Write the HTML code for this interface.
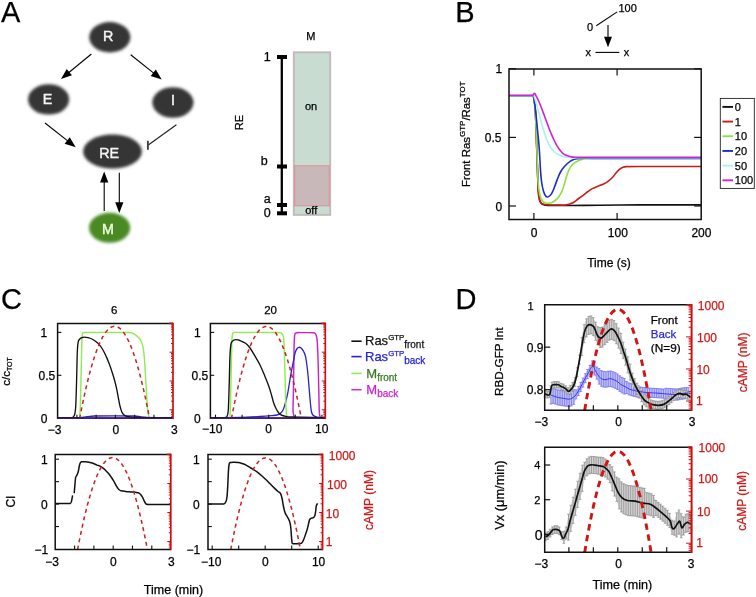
<!DOCTYPE html>
<html><head><meta charset="utf-8"><title>Figure</title>
<style>html,body{margin:0;padding:0;background:#fff;}body{width:756px;height:597px;overflow:hidden;font-family:"Liberation Sans",sans-serif;}svg{display:block;will-change:transform;}.k{stroke:#000;stroke-width:.25px}.r{stroke:#cc1a1a;stroke-width:.25px}text{font-family:"Liberation Sans",sans-serif;}</style>
</head><body>
<svg width="756" height="597" viewBox="0 0 756 597" font-family="Liberation Sans, sans-serif">
<defs><filter id="bl" x="-30%" y="-30%" width="160%" height="160%"><feGaussianBlur stdDeviation="1.7"/></filter></defs>
<rect width="756" height="597" fill="#fff"/>
<text x="1" y="21.8" font-size="29" text-anchor="start" fill="#000"  stroke="#000" stroke-width="0.25">A</text>
<ellipse cx="109.8" cy="37.2" rx="20.6" ry="15.2" fill="#363636" filter="url(#bl)"/>
<ellipse cx="48.6" cy="99.4" rx="20.6" ry="15.2" fill="#363636" filter="url(#bl)"/>
<ellipse cx="172.9" cy="102.5" rx="20.6" ry="15.3" fill="#363636" filter="url(#bl)"/>
<ellipse cx="112.5" cy="151.5" rx="29.4" ry="17" fill="#363636" filter="url(#bl)"/>
<ellipse cx="109.6" cy="227.8" rx="20.6" ry="15" fill="#4a8a24" filter="url(#bl)"/>
<text x="108.2" y="41.2" font-size="14.3" text-anchor="middle" fill="#f4f4f4" stroke="#f4f4f4" stroke-width="0.45">R</text>
<text x="47.6" y="104" font-size="14.3" text-anchor="middle" fill="#f4f4f4" stroke="#f4f4f4" stroke-width="0.45">E</text>
<text x="173" y="105.4" font-size="14.3" text-anchor="middle" fill="#f4f4f4" stroke="#f4f4f4" stroke-width="0.45">I</text>
<text x="109.2" y="158.2" font-size="14.3" text-anchor="middle" fill="#f4f4f4" stroke="#f4f4f4" stroke-width="0.45">RE</text>
<text x="108" y="233.6" font-size="14.3" text-anchor="middle" fill="#eefbe0" stroke="#eefbe0" stroke-width="0.45">M</text>
<line x1="91.4" y1="54" x2="68.57" y2="72.78" stroke="#000" stroke-width="1.1" />
<path d="M61,79 L66.74,68.97 L71.95,75.31 Z" fill="#000"/>
<line x1="130.7" y1="54.8" x2="154.04" y2="73.39" stroke="#000" stroke-width="1.1" />
<path d="M161.7,79.5 L150.7,75.98 L155.81,69.56 Z" fill="#000"/>
<line x1="45" y1="123" x2="68" y2="141.13" stroke="#000" stroke-width="1.1" />
<path d="M75.7,147.2 L64.68,143.73 L69.76,137.29 Z" fill="#000"/>
<line x1="176.4" y1="124.8" x2="148.3" y2="145" stroke="#222" stroke-width="1.15" />
<line x1="147.9" y1="140.8" x2="147.9" y2="149.8" stroke="#444" stroke-width="1.9" />
<line x1="104.2" y1="211" x2="104.2" y2="181.4" stroke="#000" stroke-width="1.1" />
<path d="M104.2,171.6 L108.3,182.4 L100.1,182.4 Z" fill="#000"/>
<line x1="119.3" y1="172.8" x2="119.3" y2="203.2" stroke="#000" stroke-width="1.1" />
<path d="M119.3,213 L115.2,202.2 L123.4,202.2 Z" fill="#000"/>
<text x="310.8" y="40.4" font-size="11" text-anchor="middle" fill="#000"  stroke="#000" stroke-width="0.25">M</text>
<text x="0" y="0" class="k" font-size="11" text-anchor="middle" transform="translate(242.6,122.6) rotate(-90)">RE</text>
<line x1="281.8" y1="57" x2="281.8" y2="213.3" stroke="#000" stroke-width="2.3" />
<rect x="277" y="55" width="10" height="4" fill="#000"/>
<rect x="277" y="164.5" width="10" height="4" fill="#000"/>
<rect x="277" y="203" width="10" height="4" fill="#000"/>
<rect x="277" y="211.3" width="10" height="4" fill="#000"/>
<text x="270.6" y="61" font-size="12.5" text-anchor="end" fill="#000"  stroke="#000" stroke-width="0.25">1</text>
<text x="267.6" y="164.7" font-size="12.5" text-anchor="end" fill="#000"  stroke="#000" stroke-width="0.25">b</text>
<text x="270.8" y="202.5" font-size="12.5" text-anchor="end" fill="#000"  stroke="#000" stroke-width="0.25">a</text>
<text x="270.8" y="217.2" font-size="12.5" text-anchor="end" fill="#000"  stroke="#000" stroke-width="0.25">0</text>
<rect x="293.8" y="52.3" width="36.4" height="162.6" fill="#c8dcd1" stroke="#c4b9b9" stroke-width="1.9"/>
<rect x="294.6" y="165.8" width="34.6" height="40" fill="#c9b8ba" stroke="#dc9494" stroke-width="1.1"/>
<text x="311" y="109.8" font-size="11" text-anchor="middle" fill="#000"  stroke="#000" stroke-width="0.25">on</text>
<text x="311.2" y="213.6" font-size="11" text-anchor="middle" fill="#000"  stroke="#000" stroke-width="0.25">off</text>
<text x="455.2" y="21.8" font-size="29" text-anchor="start" fill="#000"  stroke="#000" stroke-width="0.25">B</text>
<text x="618.5" y="11.9" font-size="11" text-anchor="start" fill="#000"  stroke="#000" stroke-width="0.25">100</text>
<text x="590" y="31.2" font-size="11" text-anchor="middle" fill="#000"  stroke="#000" stroke-width="0.25">0</text>
<line x1="596.3" y1="25.7" x2="617.2" y2="11.9" stroke="#000" stroke-width="1.1" />
<line x1="608" y1="25.1" x2="608" y2="37.8" stroke="#000" stroke-width="1.1" />
<path d="M608,47.3 L604,36.8 L612,36.8 Z" fill="#000"/>
<text x="588.3" y="56" font-size="11" text-anchor="middle" fill="#000"  stroke="#000" stroke-width="0.25">x</text>
<line x1="595.5" y1="52.4" x2="619.3" y2="52.4" stroke="#000" stroke-width="1.1" />
<text x="626.4" y="56" font-size="11" text-anchor="middle" fill="#000"  stroke="#000" stroke-width="0.25">x</text>
<path d="M509,95.8 C517.1,95.8 530.53,95.8 531.5,95.8 C532.15,95.8 533.13,95.17 533.3,95.8 C533.55,96.74 534.97,104.85 535.3,110 C535.8,117.73 536.26,135.6 536.8,150 C537.34,164.4 537.92,184 538.3,190 C538.55,194 539.22,198.59 540,201 C540.52,202.61 541.46,203.92 543,204.6 C545.32,205.62 547.47,205.32 550,205.4 C553.8,205.53 562.8,205.53 570,205.5 C580.8,205.46 589.2,205.29 600,205.2 C614.4,205.08 625.6,204.94 640,204.9 C661.6,204.84 679.04,204.9 701,204.9" fill="none" stroke="#111" stroke-width="1.6" />
<path d="M509,95.8 C517.1,95.8 530.53,95.8 531.5,95.8 C532.15,95.8 533.13,95.17 533.3,95.8 C533.55,96.74 534.97,104.85 535.3,110 C535.8,117.73 536.3,135.6 536.8,150 C537.3,164.4 537.82,184.56 538.1,190 C538.29,193.63 538.74,197.69 539.4,200 C539.84,201.54 540.64,202.76 542,203.6 C543.57,204.57 545.16,204.54 547,204.7 C549.75,204.94 554.22,204.94 558,205 C560.52,205.04 562.49,205.21 565,205 C566.83,204.85 568.25,204.57 570,204 C571.59,203.48 572.78,202.89 574.2,202 C575.68,201.08 576.6,200.03 578,199 C579.87,197.62 581.44,196.7 583.3,195.3 C585.04,193.99 586.25,192.8 588,191.5 C589.5,190.39 590.65,189.47 592.3,188.6 C594.27,187.56 595.94,187.04 598,186.2 C600.01,185.38 601.65,184.95 603.6,184 C605.27,183.18 606.51,182.41 608,181.3 C609.8,179.96 611.14,178.82 612.7,177.2 C614.03,175.82 614.75,174.46 616,173 C617.16,171.65 618.02,170.53 619.4,169.4 C620.56,168.45 621.61,167.87 623,167.3 C624.09,166.85 625.02,166.66 626.2,166.6 C627.97,166.52 635.03,166.51 640,166.5 C647.45,166.49 679.04,166.5 701,166.5" fill="none" stroke="#c82018" stroke-width="1.6" />
<path d="M509,95.8 C517.1,95.8 530.53,95.8 531.5,95.8 C532.15,95.8 533.15,95.17 533.3,95.8 C533.52,96.75 534.91,106.14 535.3,112 C535.88,120.8 536.35,136.32 536.9,150 C537.36,161.52 537.6,174.66 538.1,182 C538.43,186.9 539.22,192.16 540,195.5 C540.52,197.73 541.32,199.7 542.6,201.3 C543.45,202.37 544.68,202.63 546,203 C547.18,203.33 548.19,203.37 549.4,203.2 C550.75,203.01 551.82,202.69 553,202 C554.71,201.01 555.95,200.04 557.3,198.6 C558.68,197.13 559.51,195.76 560.5,194 C561.57,192.11 562.27,190.55 563,188.5 C564.07,185.5 564.55,183.04 565.5,180 C566.56,176.6 567.19,173.85 568.6,170.6 C569.54,168.44 570.51,166.81 572,165 C572.99,163.79 574.07,163.13 575.4,162.3 C576.97,161.32 578.26,160.64 580,160 C581.92,159.3 583.47,158.82 585.5,158.6 C588.55,158.27 591.58,158.41 595,158.4 C600.13,158.39 662.84,158.4 701,158.4" fill="none" stroke="#8ee048" stroke-width="1.6" />
<path d="M509,95.8 C517.1,95.8 530.53,95.8 531.5,95.8 C532.15,95.8 533.12,95.18 533.3,95.8 C533.56,96.74 534.87,104.87 535.5,110 C536.38,117.18 536.8,122.8 537.5,130 C538.13,136.48 538.71,141.51 539.2,148 C539.79,155.91 540.04,163.51 540.5,170 C540.81,174.33 540.99,177.7 541.6,182 C542.07,185.35 542.59,188.22 543.5,191.2 C544.11,193.19 545.08,195.41 546,196.4 C546.61,197.06 547.69,197 548.5,196.6 C549.71,195.99 550.78,194.92 551.6,193.6 C552.83,191.62 553.53,189.41 554.5,187 C555.59,184.29 556.22,182.11 557.3,179.4 C558.38,176.71 559.12,174.55 560.5,172 C561.54,170.07 562.59,168.69 564,167 C565.3,165.44 566.44,164.31 568,163 C569.33,161.88 570.43,161.03 572,160.3 C573.7,159.51 575.15,159.13 577,158.8 C579.24,158.4 581.03,158.34 583.3,158.3 C586.71,158.24 593.99,158.39 600,158.4 C609.02,158.41 664.64,158.4 701,158.4" fill="none" stroke="#1c2ccc" stroke-width="1.6" />
<path d="M509,95.6 C517.1,95.6 530.42,95.6 531.5,95.6 C532.22,95.6 533.21,95.58 533.5,95.6 C533.69,95.62 533.93,95.62 534,95.8 C534.1,96.07 535.3,100.02 536,102.4 C536.99,105.78 537.79,108.4 538.7,111.8 C539.73,115.64 540.39,118.7 541.4,122.5 C542.07,125.03 542.65,126.99 543.4,129.5 C544.09,131.81 544.61,133.62 545.4,135.9 C546.05,137.76 546.63,139.19 547.4,141 C548.07,142.57 548.56,143.81 549.4,145.3 C550.23,146.77 550.94,147.89 552,149.2 C552.89,150.31 553.71,151.08 554.8,152 C555.88,152.92 556.78,153.57 558,154.3 C559.2,155.02 560.19,155.5 561.5,156 C562.72,156.47 563.72,156.73 565,157 C566.14,157.24 567.04,157.32 568.2,157.4 C569.94,157.52 572.55,157.69 575,157.7 C578.68,157.71 655.64,157.7 701,157.7" fill="none" stroke="#a8f2f2" stroke-width="1.6" />
<path d="M509,95.3 C517.1,95.3 530.69,95.3 531.5,95.3 C532.04,95.3 532.56,95.62 533,95.3 C533.66,94.82 533.49,93.14 534.4,93.2 C535.37,93.27 535.32,94.66 535.8,95.5 C536.4,96.53 536.87,97.33 537.4,98.4 C538.17,99.96 538.72,101.2 539.4,102.8 C540.16,104.58 540.7,105.99 541.4,107.8 C542.14,109.7 542.69,111.19 543.4,113.1 C544.13,115.04 544.68,116.56 545.4,118.5 C546.12,120.44 546.67,121.96 547.4,123.9 C548.11,125.81 548.66,127.3 549.4,129.2 C550.1,130.97 550.65,132.35 551.4,134.1 C552.09,135.73 552.66,136.99 553.4,138.6 C554.1,140.12 554.64,141.31 555.4,142.8 C556.11,144.19 556.67,145.27 557.5,146.6 C558.33,147.94 559.02,148.96 560,150.2 C560.93,151.38 561.67,152.31 562.8,153.3 C563.67,154.06 564.48,154.47 565.5,155 C566.43,155.48 567.2,155.78 568.2,156.1 C569.37,156.47 570.29,156.7 571.5,156.9 C572.71,157.1 573.67,157.14 574.9,157.2 C576.73,157.29 578.16,157.3 580,157.3 C582.75,157.3 657.44,157.3 701,157.3" fill="none" stroke="#d022d6" stroke-width="1.6" />
<rect x="509" y="69" width="192.20000000000005" height="150.5" fill="none" stroke="#111" stroke-width="1.5"/>
<line x1="533.9" y1="69" x2="533.9" y2="75.5" stroke="#111" stroke-width="1.2" />
<line x1="533.9" y1="219.5" x2="533.9" y2="213" stroke="#111" stroke-width="1.2" />
<line x1="617.1" y1="69" x2="617.1" y2="75.5" stroke="#111" stroke-width="1.2" />
<line x1="617.1" y1="219.5" x2="617.1" y2="213" stroke="#111" stroke-width="1.2" />
<line x1="509" y1="206" x2="516" y2="206" stroke="#111" stroke-width="1.2" />
<line x1="701.2" y1="206" x2="694.2" y2="206" stroke="#111" stroke-width="1.2" />
<line x1="509" y1="137.4" x2="516" y2="137.4" stroke="#111" stroke-width="1.2" />
<line x1="701.2" y1="137.4" x2="694.2" y2="137.4" stroke="#111" stroke-width="1.2" />
<line x1="509" y1="68.8" x2="516" y2="68.8" stroke="#111" stroke-width="1.2" />
<line x1="701.2" y1="68.8" x2="694.2" y2="68.8" stroke="#111" stroke-width="1.2" />
<text x="502.2" y="73.4" font-size="12" text-anchor="end" fill="#000"  stroke="#000" stroke-width="0.25">1</text>
<text x="501.4" y="142.4" font-size="12" text-anchor="end" fill="#000"  stroke="#000" stroke-width="0.25">0.5</text>
<text x="502.2" y="210.6" font-size="12" text-anchor="end" fill="#000"  stroke="#000" stroke-width="0.25">0</text>
<text x="534" y="237.2" font-size="12" text-anchor="middle" fill="#000"  stroke="#000" stroke-width="0.25">0</text>
<text x="617.8" y="237.2" font-size="12" text-anchor="middle" fill="#000"  stroke="#000" stroke-width="0.25">100</text>
<text x="701.4" y="237.2" font-size="12" text-anchor="middle" fill="#000"  stroke="#000" stroke-width="0.25">200</text>
<text x="609" y="267.2" font-size="12" text-anchor="middle" fill="#000"  stroke="#000" stroke-width="0.25">Time (s)</text>
<text x="0" y="0" class="k" font-size="11.4" text-anchor="middle" transform="translate(469.8,134.2) rotate(-90)">Front Ras<tspan font-size="8" dy="-5">GTP</tspan><tspan dy="5">/Ras</tspan><tspan font-size="8" dy="-5">TOT</tspan></text>
<rect x="720.3" y="98.4" width="34" height="90" fill="#fff" stroke="#222" stroke-width="0.9"/>
<line x1="722.4" y1="106.9" x2="733" y2="106.9" stroke="#111" stroke-width="1.9" />
<text x="734.8" y="110.9" font-size="11" text-anchor="start" fill="#000"  stroke="#000" stroke-width="0.25">0</text>
<line x1="722.4" y1="121.58" x2="733" y2="121.58" stroke="#c82018" stroke-width="1.9" />
<text x="734.8" y="125.58" font-size="11" text-anchor="start" fill="#000"  stroke="#000" stroke-width="0.25">1</text>
<line x1="722.4" y1="136.26" x2="733" y2="136.26" stroke="#8ee048" stroke-width="1.9" />
<text x="734.8" y="140.26" font-size="11" text-anchor="start" fill="#000"  stroke="#000" stroke-width="0.25">10</text>
<line x1="722.4" y1="150.94" x2="733" y2="150.94" stroke="#1c2ccc" stroke-width="1.9" />
<text x="734.8" y="154.94" font-size="11" text-anchor="start" fill="#000"  stroke="#000" stroke-width="0.25">20</text>
<line x1="722.4" y1="165.62" x2="733" y2="165.62" stroke="#a8f2f2" stroke-width="1.9" />
<text x="734.8" y="169.62" font-size="11" text-anchor="start" fill="#000"  stroke="#000" stroke-width="0.25">50</text>
<line x1="722.4" y1="180.3" x2="733" y2="180.3" stroke="#d022d6" stroke-width="1.9" />
<text x="734.8" y="184.3" font-size="11" text-anchor="start" fill="#000"  stroke="#000" stroke-width="0.25">100</text>
<text x="1" y="309.2" font-size="29" text-anchor="start" fill="#000"  stroke="#000" stroke-width="0.25">C</text>
<text x="114.3" y="313.5" font-size="11.5" text-anchor="middle" fill="#000"  stroke="#000" stroke-width="0.25">6</text>
<text x="270.6" y="313.8" font-size="11.5" text-anchor="middle" fill="#000"  stroke="#000" stroke-width="0.25">20</text>
<path d="M57.6,418.1 L173,418.1" fill="none" stroke="#cc22cc" stroke-width="1.45" />
<path d="M57.6,417.6 C65.59,417.6 75.88,417.73 79.8,417.6 C82.42,417.51 84.4,416.88 87,416.6 C89.76,416.3 91.92,416.04 94.7,416 C98.87,415.95 130.81,415.94 134.4,416 C136.79,416.04 138.62,416.51 141,416.8 C143.38,417.09 145.21,417.54 147.6,417.6 C151.19,417.69 163.86,417.6 173,417.6" fill="none" stroke="#2424cc" stroke-width="1.3" />
<path d="M79.3,418.4 C79.41,418.26 79.59,418.18 79.6,418 C79.62,417.73 80.24,409.69 80.4,405 C80.63,397.97 80.91,382.6 81.2,370 C81.45,359.2 81.76,343.64 81.9,340 C81.99,337.58 82.37,334.14 82.6,333.3 C82.76,332.74 83.42,332.57 84,332.5 C84.86,332.39 87.84,332.4 90,332.4 C93.24,332.39 126.37,332.39 128,332.4 C129.09,332.41 129.94,332.47 131,332.7 C131.93,332.9 132.64,333.17 133.5,333.6 C134.46,334.08 135.16,334.54 136,335.2 C136.96,335.95 137.7,336.57 138.5,337.5 C139.51,338.67 140.3,339.62 141,341 C141.86,342.71 142.37,344.14 142.8,346 C143.45,348.8 143.7,351.1 144,354 C144.46,358.34 144.69,362.32 145,367 C145.38,372.76 145.57,377.24 145.9,383 C146.21,388.4 146.44,392.6 146.8,398 C147.09,402.32 147.32,406.46 147.7,410 C147.96,412.36 148.5,415.42 148.8,416.5 C149,417.22 149.57,417.59 150,418.2" fill="none" stroke="#90ec50" stroke-width="1.45" />
<path d="M57.6,417.6 C62.06,417.6 68.37,417.64 70,417.6 C71.09,417.57 72.13,417.85 73,417.2 C74.06,416.41 74.5,415.29 74.8,414 C75.24,412.07 75.63,408.26 75.8,405 C76.06,400.12 76.35,389 76.6,380 C76.89,369.92 77.05,357.69 77.3,352 C77.47,348.21 77.95,343.23 78.3,341.5 C78.53,340.34 79.19,339.56 80,338.7 C80.57,338.1 81.22,337.86 82,337.6 C82.86,337.31 83.59,337.18 84.5,337.2 C85.77,337.22 86.76,337.4 88,337.7 C89.44,338.05 90.57,338.36 91.9,339 C93.29,339.67 94.28,340.36 95.5,341.3 C96.92,342.39 98.03,343.25 99.2,344.6 C100.75,346.4 101.81,347.94 103,350 C104.48,352.56 105.39,354.7 106.6,357.4 C107.73,359.92 108.53,361.91 109.5,364.5 C110.51,367.21 111.21,369.35 112.1,372.1 C113.01,374.93 113.72,377.13 114.5,380 C115.34,383.11 115.91,385.55 116.6,388.7 C117.21,391.49 117.57,393.69 118.1,396.5 C118.58,399.02 118.86,400.99 119.4,403.5 C119.83,405.5 120.19,407.05 120.8,409 C121.24,410.4 121.56,411.53 122.3,412.8 C122.91,413.83 123.56,414.56 124.5,415.3 C125.28,415.92 126.04,416.23 127,416.5 C128.4,416.89 129.55,416.94 131,417.1 C132.79,417.3 134.19,417.48 136,417.5 C138.71,417.53 159.68,417.56 173,417.6" fill="none" stroke="#111" stroke-width="1.35" />
<path d="M79.64,418.6 L80.63,413.4 L81.63,408.35 L82.63,403.46 L83.63,398.71 L84.63,394.11 L85.63,389.67 L86.63,385.37 L87.63,381.23 L88.63,377.23 L89.63,373.39 L90.62,369.7 L91.62,366.16 L92.62,362.77 L93.62,359.53 L94.62,356.44 L95.62,353.5 L96.62,350.71 L97.62,348.08 L98.62,345.59 L99.62,343.25 L100.61,341.07 L101.61,339.03 L102.61,337.15 L103.61,335.42 L104.61,333.83 L105.61,332.4 L106.61,331.12 L107.61,329.99 L108.61,329.01 L109.61,328.18 L110.6,327.51 L111.6,326.98 L112.6,326.6 L113.6,326.38 L114.6,326.3 L115.6,326.38 L116.6,326.6 L117.6,326.98 L118.6,327.51 L119.59,328.18 L120.59,329.01 L121.59,329.99 L122.59,331.12 L123.59,332.4 L124.59,333.83 L125.59,335.42 L126.59,337.15 L127.59,339.03 L128.59,341.07 L129.58,343.25 L130.58,345.59 L131.58,348.08 L132.58,350.71 L133.58,353.5 L134.58,356.44 L135.58,359.53 L136.58,362.77 L137.58,366.16 L138.58,369.7 L139.57,373.39 L140.57,377.23 L141.57,381.23 L142.57,385.37 L143.57,389.67 L144.57,394.11 L145.57,398.71 L146.57,403.46 L147.57,408.35 L148.57,413.4 L149.56,418.6" fill="none" stroke="#c82222" stroke-width="1.5" stroke-dasharray="4,3.5"/>
<path d="M173,323.4 L57.6,323.4 L57.6,418.3 L173,418.3" fill="none" stroke="#111" stroke-width="1.5"/>
<line x1="57.6" y1="418.3" x2="173" y2="418.3" stroke="#3a1a7a" stroke-width="1.6" />
<line x1="76.86" y1="418.3" x2="76.86" y2="414.7" stroke="#111" stroke-width="1.1" />
<line x1="96.13" y1="418.3" x2="96.13" y2="414.7" stroke="#111" stroke-width="1.1" />
<line x1="115.4" y1="418.3" x2="115.4" y2="414.7" stroke="#111" stroke-width="1.1" />
<line x1="134.67" y1="418.3" x2="134.67" y2="414.7" stroke="#111" stroke-width="1.1" />
<line x1="153.94" y1="418.3" x2="153.94" y2="414.7" stroke="#111" stroke-width="1.1" />
<line x1="57.6" y1="332.4" x2="61.4" y2="332.4" stroke="#111" stroke-width="1.1" />
<line x1="57.6" y1="375.3" x2="61.4" y2="375.3" stroke="#111" stroke-width="1.1" />
<line x1="169" y1="323.4" x2="173" y2="323.4" stroke="#cc1010" stroke-width="1.5" />
<line x1="173" y1="322.65" x2="173" y2="419.05" stroke="#cc1010" stroke-width="1.7" />
<line x1="171" y1="416.19" x2="173" y2="416.19" stroke="#cc1010" stroke-width="1.0" />
<line x1="171" y1="414.26" x2="173" y2="414.26" stroke="#cc1010" stroke-width="1.0" />
<line x1="171" y1="412.59" x2="173" y2="412.59" stroke="#cc1010" stroke-width="1.0" />
<line x1="171" y1="411.12" x2="173" y2="411.12" stroke="#cc1010" stroke-width="1.0" />
<line x1="169.5" y1="409.8" x2="173" y2="409.8" stroke="#cc1010" stroke-width="1.0" />
<line x1="171" y1="401.13" x2="173" y2="401.13" stroke="#cc1010" stroke-width="1.0" />
<line x1="171" y1="396.06" x2="173" y2="396.06" stroke="#cc1010" stroke-width="1.0" />
<line x1="171" y1="392.46" x2="173" y2="392.46" stroke="#cc1010" stroke-width="1.0" />
<line x1="171" y1="389.67" x2="173" y2="389.67" stroke="#cc1010" stroke-width="1.0" />
<line x1="171" y1="387.39" x2="173" y2="387.39" stroke="#cc1010" stroke-width="1.0" />
<line x1="171" y1="385.46" x2="173" y2="385.46" stroke="#cc1010" stroke-width="1.0" />
<line x1="171" y1="383.79" x2="173" y2="383.79" stroke="#cc1010" stroke-width="1.0" />
<line x1="171" y1="382.32" x2="173" y2="382.32" stroke="#cc1010" stroke-width="1.0" />
<line x1="169.5" y1="381" x2="173" y2="381" stroke="#cc1010" stroke-width="1.0" />
<line x1="171" y1="372.33" x2="173" y2="372.33" stroke="#cc1010" stroke-width="1.0" />
<line x1="171" y1="367.26" x2="173" y2="367.26" stroke="#cc1010" stroke-width="1.0" />
<line x1="171" y1="363.66" x2="173" y2="363.66" stroke="#cc1010" stroke-width="1.0" />
<line x1="171" y1="360.87" x2="173" y2="360.87" stroke="#cc1010" stroke-width="1.0" />
<line x1="171" y1="358.59" x2="173" y2="358.59" stroke="#cc1010" stroke-width="1.0" />
<line x1="171" y1="356.66" x2="173" y2="356.66" stroke="#cc1010" stroke-width="1.0" />
<line x1="171" y1="354.99" x2="173" y2="354.99" stroke="#cc1010" stroke-width="1.0" />
<line x1="171" y1="353.52" x2="173" y2="353.52" stroke="#cc1010" stroke-width="1.0" />
<line x1="169.5" y1="352.2" x2="173" y2="352.2" stroke="#cc1010" stroke-width="1.0" />
<line x1="171" y1="343.53" x2="173" y2="343.53" stroke="#cc1010" stroke-width="1.0" />
<line x1="171" y1="338.46" x2="173" y2="338.46" stroke="#cc1010" stroke-width="1.0" />
<line x1="171" y1="334.86" x2="173" y2="334.86" stroke="#cc1010" stroke-width="1.0" />
<line x1="171" y1="332.07" x2="173" y2="332.07" stroke="#cc1010" stroke-width="1.0" />
<line x1="171" y1="329.79" x2="173" y2="329.79" stroke="#cc1010" stroke-width="1.0" />
<line x1="171" y1="327.86" x2="173" y2="327.86" stroke="#cc1010" stroke-width="1.0" />
<line x1="171" y1="326.19" x2="173" y2="326.19" stroke="#cc1010" stroke-width="1.0" />
<line x1="171" y1="324.72" x2="173" y2="324.72" stroke="#cc1010" stroke-width="1.0" />
<line x1="169.5" y1="323.4" x2="173" y2="323.4" stroke="#cc1010" stroke-width="1.0" />
<text x="47.2" y="337.2" font-size="12" text-anchor="end" fill="#000"  stroke="#000" stroke-width="0.25">1</text>
<text x="55.2" y="380" font-size="12" text-anchor="end" fill="#000"  stroke="#000" stroke-width="0.25">0.5</text>
<text x="47.4" y="423.4" font-size="12" text-anchor="end" fill="#000"  stroke="#000" stroke-width="0.25">0</text>
<text x="54.6" y="433.6" font-size="12" text-anchor="middle" fill="#000"  stroke="#000" stroke-width="0.25">−3</text>
<text x="115.8" y="433.6" font-size="12" text-anchor="middle" fill="#000"  stroke="#000" stroke-width="0.25">0</text>
<text x="174.3" y="433.6" font-size="12" text-anchor="middle" fill="#000"  stroke="#000" stroke-width="0.25">3</text>
<text x="0" y="0" class="k" font-size="11.5" text-anchor="middle" transform="translate(9.9,371.5) rotate(-90)">c/c<tspan font-size="7" dy="2.2">TOT</tspan></text>
<path d="M210.4,418.1 C239.88,418.1 287.93,418.53 292.3,418.1 C295.21,417.81 292.9,412.93 293,410 C293.15,405.61 293.42,390.8 293.6,380 C293.81,367.4 293.93,350.95 294.1,345 C294.21,341.03 294.69,335.06 294.9,334 C295.04,333.29 295.81,332.99 296.5,332.8 C297.54,332.51 298.74,332.61 300,332.6 C301.89,332.59 312.65,332.67 313.5,332.7 C314.07,332.72 314.6,332.8 315,333.2 C315.6,333.8 316.04,334.58 316.3,335.5 C316.69,336.87 317.04,339 317.2,341 C317.45,344 317.71,349.96 317.9,355 C318.14,361.41 318.24,366.39 318.4,372.8 C318.6,380.79 318.72,387.01 318.9,395 C319.04,401.12 319.13,409.05 319.3,412 C319.41,413.97 319.93,416.65 320.2,417.4 C320.38,417.9 320.97,418.03 321.5,418.1 C322.29,418.21 323.93,418.1 325.3,418.1" fill="none" stroke="#cc22cc" stroke-width="1.45" />
<path d="M210.4,417.6 C221.06,417.53 229.35,417.64 240,417.4 C247.21,417.24 253.51,416.86 260,416.5 C264.33,416.26 269.29,415.84 272,415.6 C273.81,415.44 275.26,415.49 277,415 C278.36,414.61 279.42,414.12 280.5,413.2 C281.71,412.17 282.53,411.14 283.2,409.7 C284.21,407.54 284.77,405.12 285.5,402.5 C286.35,399.43 286.97,397.03 287.6,393.9 C288.38,390 288.75,386.92 289.4,383 C290.01,379.33 290.42,376.46 291.1,372.8 C291.89,368.54 292.64,365.25 293.5,361 C294.12,357.94 294.54,354.8 295.2,352.5 C295.64,350.97 296.38,349.48 297.1,348.5 C297.58,347.85 298.2,347.42 299,347.3 C299.74,347.19 300.41,347.44 301,347.9 C301.89,348.59 302.43,349.4 303,350.4 C303.86,351.9 304.68,353.37 305.2,355.2 C305.98,357.94 306.18,360.18 306.6,363 C307.12,366.52 307.43,369.26 307.8,372.8 C308.22,376.83 308.46,379.97 308.8,384 C309.1,387.56 309.3,390.34 309.6,393.9 C309.91,397.54 310.13,400.37 310.5,404 C310.78,406.71 311.05,409.74 311.4,411.5 C311.63,412.67 312.08,413.71 312.6,414.6 C312.95,415.19 313.38,415.59 314,415.9 C314.92,416.36 316.49,417.07 318,417.3 C320.26,417.65 322.48,417.49 325,417.6" fill="none" stroke="#2424cc" stroke-width="1.3" />
<path d="M229.5,418.4 C229.61,418.26 229.79,418.18 229.8,418 C229.82,417.73 230.36,409.68 230.5,405 C230.7,397.97 230.93,382.6 231.2,370 C231.43,359.2 231.74,343.7 231.9,340 C232.01,337.53 232.47,334.16 232.8,333.2 C233.02,332.56 233.83,332.47 234.5,332.4 C235.51,332.29 238.02,332.4 240,332.4 C242.97,332.4 276.47,332.39 278,332.4 C279.02,332.41 279.88,332.37 280.8,332.8 C281.58,333.17 282.09,333.74 282.5,334.5 C283.12,335.64 283.45,336.69 283.6,338 C283.83,339.97 284.14,345.68 284.3,350 C284.55,356.49 284.75,366 285,375 C285.25,384 285.44,392.97 285.7,400 C285.87,404.68 286.17,410.17 286.4,413 C286.56,414.89 286.91,416.33 287.2,418.2" fill="none" stroke="#90ec50" stroke-width="1.45" />
<path d="M210.4,417.6 C215.3,417.6 222.28,417.71 224,417.6 C225.15,417.52 226.43,417.5 227,416.5 C227.85,415 228.13,412.38 228.3,410 C228.55,406.43 228.92,394 229.2,385 C229.53,374.2 229.69,361.5 230,355 C230.21,350.66 230.76,344.86 231.2,343 C231.5,341.76 232.43,341 233.5,340.3 C234.33,339.75 235.2,339.67 236.2,339.7 C237.6,339.74 238.69,340 240,340.5 C241.96,341.25 243.8,341.95 245.6,343.3 C247.45,344.69 248.64,346.13 250,348 C252.04,350.79 253.25,353.22 255,356.2 C256.85,359.34 258.37,361.74 260,365 C261.76,368.52 262.89,371.37 264.4,375 C266.13,379.18 267.49,382.43 269,386.7 C270.04,389.64 270.64,392 271.5,395 C272.33,397.87 272.76,400.17 273.7,403 C274.38,405.04 275.05,406.58 276,408.5 C276.74,410.01 277.36,411.18 278.4,412.5 C279.18,413.48 279.93,414.16 281,414.8 C282.09,415.44 283.07,415.7 284.3,416 C286.14,416.45 287.92,416.92 290,417 C293.12,417.12 312.4,417.38 325,417.6" fill="none" stroke="#111" stroke-width="1.35" />
<path d="M231.45,418.6 L232.45,413.41 L233.45,408.36 L234.45,403.47 L235.45,398.73 L236.45,394.14 L237.45,389.7 L238.44,385.41 L239.44,381.27 L240.44,377.28 L241.44,373.44 L242.44,369.75 L243.44,366.22 L244.43,362.83 L245.43,359.59 L246.43,356.51 L247.43,353.57 L248.43,350.79 L249.43,348.15 L250.42,345.67 L251.42,343.33 L252.42,341.15 L253.42,339.12 L254.42,337.24 L255.42,335.51 L256.42,333.93 L257.41,332.5 L258.41,331.22 L259.41,330.09 L260.41,329.11 L261.41,328.28 L262.41,327.6 L263.4,327.08 L264.4,326.7 L265.4,326.48 L266.4,326.4 L267.4,326.48 L268.4,326.7 L269.4,327.08 L270.39,327.6 L271.39,328.28 L272.39,329.11 L273.39,330.09 L274.39,331.22 L275.39,332.5 L276.38,333.93 L277.38,335.51 L278.38,337.24 L279.38,339.12 L280.38,341.15 L281.38,343.33 L282.38,345.67 L283.37,348.15 L284.37,350.79 L285.37,353.57 L286.37,356.51 L287.37,359.59 L288.37,362.83 L289.36,366.22 L290.36,369.75 L291.36,373.44 L292.36,377.28 L293.36,381.27 L294.36,385.41 L295.35,389.7 L296.35,394.14 L297.35,398.73 L298.35,403.47 L299.35,408.36 L300.35,413.41 L301.35,418.6" fill="none" stroke="#c82222" stroke-width="1.5" stroke-dasharray="4,3.5"/>
<path d="M325.3,323.4 L210.4,323.4 L210.4,418.3 L325.3,418.3" fill="none" stroke="#111" stroke-width="1.5"/>
<line x1="210.4" y1="418.3" x2="325.3" y2="418.3" stroke="#3a1a7a" stroke-width="1.6" />
<line x1="215.5" y1="418.3" x2="215.5" y2="414.7" stroke="#111" stroke-width="1.1" />
<line x1="242.1" y1="418.3" x2="242.1" y2="414.7" stroke="#111" stroke-width="1.1" />
<line x1="268.7" y1="418.3" x2="268.7" y2="414.7" stroke="#111" stroke-width="1.1" />
<line x1="295.3" y1="418.3" x2="295.3" y2="414.7" stroke="#111" stroke-width="1.1" />
<line x1="321.9" y1="418.3" x2="321.9" y2="414.7" stroke="#111" stroke-width="1.1" />
<line x1="210.4" y1="332.4" x2="214.2" y2="332.4" stroke="#111" stroke-width="1.1" />
<line x1="210.4" y1="375.3" x2="214.2" y2="375.3" stroke="#111" stroke-width="1.1" />
<line x1="321.3" y1="323.4" x2="325.3" y2="323.4" stroke="#cc1010" stroke-width="1.5" />
<line x1="325.3" y1="322.65" x2="325.3" y2="419.05" stroke="#cc1010" stroke-width="1.7" />
<line x1="323.3" y1="416.19" x2="325.3" y2="416.19" stroke="#cc1010" stroke-width="1.0" />
<line x1="323.3" y1="414.26" x2="325.3" y2="414.26" stroke="#cc1010" stroke-width="1.0" />
<line x1="323.3" y1="412.59" x2="325.3" y2="412.59" stroke="#cc1010" stroke-width="1.0" />
<line x1="323.3" y1="411.12" x2="325.3" y2="411.12" stroke="#cc1010" stroke-width="1.0" />
<line x1="321.8" y1="409.8" x2="325.3" y2="409.8" stroke="#cc1010" stroke-width="1.0" />
<line x1="323.3" y1="401.13" x2="325.3" y2="401.13" stroke="#cc1010" stroke-width="1.0" />
<line x1="323.3" y1="396.06" x2="325.3" y2="396.06" stroke="#cc1010" stroke-width="1.0" />
<line x1="323.3" y1="392.46" x2="325.3" y2="392.46" stroke="#cc1010" stroke-width="1.0" />
<line x1="323.3" y1="389.67" x2="325.3" y2="389.67" stroke="#cc1010" stroke-width="1.0" />
<line x1="323.3" y1="387.39" x2="325.3" y2="387.39" stroke="#cc1010" stroke-width="1.0" />
<line x1="323.3" y1="385.46" x2="325.3" y2="385.46" stroke="#cc1010" stroke-width="1.0" />
<line x1="323.3" y1="383.79" x2="325.3" y2="383.79" stroke="#cc1010" stroke-width="1.0" />
<line x1="323.3" y1="382.32" x2="325.3" y2="382.32" stroke="#cc1010" stroke-width="1.0" />
<line x1="321.8" y1="381" x2="325.3" y2="381" stroke="#cc1010" stroke-width="1.0" />
<line x1="323.3" y1="372.33" x2="325.3" y2="372.33" stroke="#cc1010" stroke-width="1.0" />
<line x1="323.3" y1="367.26" x2="325.3" y2="367.26" stroke="#cc1010" stroke-width="1.0" />
<line x1="323.3" y1="363.66" x2="325.3" y2="363.66" stroke="#cc1010" stroke-width="1.0" />
<line x1="323.3" y1="360.87" x2="325.3" y2="360.87" stroke="#cc1010" stroke-width="1.0" />
<line x1="323.3" y1="358.59" x2="325.3" y2="358.59" stroke="#cc1010" stroke-width="1.0" />
<line x1="323.3" y1="356.66" x2="325.3" y2="356.66" stroke="#cc1010" stroke-width="1.0" />
<line x1="323.3" y1="354.99" x2="325.3" y2="354.99" stroke="#cc1010" stroke-width="1.0" />
<line x1="323.3" y1="353.52" x2="325.3" y2="353.52" stroke="#cc1010" stroke-width="1.0" />
<line x1="321.8" y1="352.2" x2="325.3" y2="352.2" stroke="#cc1010" stroke-width="1.0" />
<line x1="323.3" y1="343.53" x2="325.3" y2="343.53" stroke="#cc1010" stroke-width="1.0" />
<line x1="323.3" y1="338.46" x2="325.3" y2="338.46" stroke="#cc1010" stroke-width="1.0" />
<line x1="323.3" y1="334.86" x2="325.3" y2="334.86" stroke="#cc1010" stroke-width="1.0" />
<line x1="323.3" y1="332.07" x2="325.3" y2="332.07" stroke="#cc1010" stroke-width="1.0" />
<line x1="323.3" y1="329.79" x2="325.3" y2="329.79" stroke="#cc1010" stroke-width="1.0" />
<line x1="323.3" y1="327.86" x2="325.3" y2="327.86" stroke="#cc1010" stroke-width="1.0" />
<line x1="323.3" y1="326.19" x2="325.3" y2="326.19" stroke="#cc1010" stroke-width="1.0" />
<line x1="323.3" y1="324.72" x2="325.3" y2="324.72" stroke="#cc1010" stroke-width="1.0" />
<line x1="321.8" y1="323.4" x2="325.3" y2="323.4" stroke="#cc1010" stroke-width="1.0" />
<text x="200.6" y="337.2" font-size="12" text-anchor="end" fill="#000"  stroke="#000" stroke-width="0.25">1</text>
<text x="208.3" y="380" font-size="12" text-anchor="end" fill="#000"  stroke="#000" stroke-width="0.25">0.5</text>
<text x="200.6" y="423.4" font-size="12" text-anchor="end" fill="#000"  stroke="#000" stroke-width="0.25">0</text>
<text x="212.2" y="433.4" font-size="12" text-anchor="middle" fill="#000"  stroke="#000" stroke-width="0.25">−10</text>
<text x="268.6" y="433.4" font-size="12" text-anchor="middle" fill="#000"  stroke="#000" stroke-width="0.25">0</text>
<text x="321.7" y="433.4" font-size="12" text-anchor="middle" fill="#000"  stroke="#000" stroke-width="0.25">10</text>
<line x1="351.4" y1="341.2" x2="361.6" y2="341.2" stroke="#111" stroke-width="1.6" />
<text x="365" y="345.3" font-size="13" fill="#111" stroke="#111" stroke-width="0.25">Ras<tspan font-size="7.8" dy="-5.1">GTP</tspan><tspan font-size="10" dy="8.0">front</tspan></text>
<line x1="351.4" y1="356.6" x2="361.6" y2="356.6" stroke="#2222dd" stroke-width="1.6" />
<text x="365" y="360.7" font-size="13" fill="#2222dd" stroke="#2222dd" stroke-width="0.25">Ras<tspan font-size="7.8" dy="-5.1">GTP</tspan><tspan font-size="10" dy="8.0">back</tspan></text>
<line x1="351.4" y1="373.4" x2="361.6" y2="373.4" stroke="#90ec50" stroke-width="1.6" />
<text x="366.3" y="377.5" font-size="13" fill="#3a7a22" stroke="#3a7a22" stroke-width="0.25">M<tspan font-size="10" dy="3">front</tspan></text>
<line x1="351.4" y1="389.7" x2="361.6" y2="389.7" stroke="#cc33cc" stroke-width="1.6" />
<text x="366.3" y="393.8" font-size="13" fill="#cc22cc" stroke="#cc22cc" stroke-width="0.25">M<tspan font-size="10" dy="3">back</tspan></text>
<path d="M55.2,503.6 C56.93,503.6 58.27,503.62 60,503.6 C62.59,503.57 68.89,503.66 70.2,503.4 C71.07,503.23 71.25,502.15 71.5,501.3 C71.88,500.02 72.2,497.46 72.6,495.3" fill="none" stroke="#111" stroke-width="1.5" />
<path d="M74.2,493.2 C74.7,487.55 75.39,478.91 75.6,477.5 C75.74,476.56 76.51,476.07 76.9,475.2 C77.44,474.01 77.87,473.07 78.2,471.8 C78.7,469.9 78.89,467.76 79.3,466 C79.57,464.82 79.87,463.58 80.3,462.8 C80.58,462.28 81.02,461.92 81.6,461.8 C82.47,461.62 83.78,461.73 85,461.8 C86.45,461.88 87.58,461.93 89,462.2 C90.47,462.48 91.6,462.79 93,463.3 C94.48,463.84 95.54,464.51 97,465.1 C98.2,465.59 99.25,465.7 100.4,466.3 C101.43,466.83 102.09,467.48 103,468.2 C104.08,469.06 104.91,469.74 105.9,470.7 C106.93,471.69 107.69,472.5 108.6,473.6 C109.64,474.85 110.36,475.88 111.3,477.2 C111.95,478.11 112.42,478.84 113,479.8 C113.61,480.82 114.03,481.66 114.6,482.7 C115.21,483.82 115.66,484.7 116.3,485.8 C116.85,486.75 117.23,487.53 117.9,488.4 C118.39,489.05 118.85,489.51 119.5,490 C120.02,490.39 120.47,490.65 121.1,490.8 C122.04,491.02 123.91,491.22 125.5,491.4 C127.44,491.62 128.96,491.72 130.9,491.9 C132.88,492.08 135.41,492.28 136.4,492.4 C137.06,492.48 137.57,492.58 138.2,492.8 C138.73,492.98 139.16,493.15 139.6,493.5 C140.18,493.96 140.53,494.43 141,495 C141.51,495.62 141.9,496.11 142.3,496.8 C142.8,497.66 143.09,498.39 143.5,499.3 C143.88,500.15 144.07,500.87 144.5,501.7 C144.83,502.35 145.13,502.84 145.6,503.4 C145.93,503.79 146.21,504.14 146.7,504.3 C147.43,504.54 148.17,504.47 149,504.5 C149.94,504.54 150.66,504.5 151.6,504.5 C153,504.49 163.89,504.44 170.8,504.4" fill="none" stroke="#111" stroke-width="1.5" />
<path d="M77.59,549.6 L78.59,544.42 L79.59,539.39 L80.58,534.5 L81.58,529.77 L82.58,525.19 L83.58,520.76 L84.57,516.48 L85.57,512.35 L86.57,508.37 L87.57,504.54 L88.56,500.86 L89.56,497.33 L90.56,493.95 L91.56,490.72 L92.55,487.64 L93.55,484.71 L94.55,481.93 L95.54,479.3 L96.54,476.83 L97.54,474.5 L98.54,472.32 L99.53,470.29 L100.53,468.41 L101.53,466.69 L102.53,465.11 L103.52,463.68 L104.52,462.41 L105.52,461.28 L106.52,460.3 L107.51,459.48 L108.51,458.8 L109.51,458.28 L110.51,457.9 L111.5,457.68 L112.5,457.6 L113.5,457.68 L114.49,457.9 L115.49,458.28 L116.49,458.8 L117.49,459.48 L118.48,460.3 L119.48,461.28 L120.48,462.41 L121.48,463.68 L122.47,465.11 L123.47,466.69 L124.47,468.41 L125.47,470.29 L126.46,472.32 L127.46,474.5 L128.46,476.83 L129.46,479.3 L130.45,481.93 L131.45,484.71 L132.45,487.64 L133.44,490.72 L134.44,493.95 L135.44,497.33 L136.44,500.86 L137.43,504.54 L138.43,508.37 L139.43,512.35 L140.43,516.48 L141.42,520.76 L142.42,525.19 L143.42,529.77 L144.42,534.5 L145.41,539.39 L146.41,544.42 L147.41,549.6" fill="none" stroke="#c82222" stroke-width="1.5" stroke-dasharray="4,3.5"/>
<path d="M170.8,454.4 L55.2,454.4 L55.2,549.4 L170.8,549.4" fill="none" stroke="#111" stroke-width="1.5"/>
<line x1="74.6" y1="549.4" x2="74.6" y2="545.6" stroke="#111" stroke-width="1.1" />
<line x1="93.9" y1="549.4" x2="93.9" y2="545.6" stroke="#111" stroke-width="1.1" />
<line x1="113.2" y1="549.4" x2="113.2" y2="545.6" stroke="#111" stroke-width="1.1" />
<line x1="132.5" y1="549.4" x2="132.5" y2="545.6" stroke="#111" stroke-width="1.1" />
<line x1="151.8" y1="549.4" x2="151.8" y2="545.6" stroke="#111" stroke-width="1.1" />
<line x1="55.2" y1="459.2" x2="59" y2="459.2" stroke="#111" stroke-width="1.1" />
<line x1="55.2" y1="481.65" x2="59" y2="481.65" stroke="#111" stroke-width="1.1" />
<line x1="55.2" y1="504.1" x2="59" y2="504.1" stroke="#111" stroke-width="1.1" />
<line x1="55.2" y1="526.55" x2="59" y2="526.55" stroke="#111" stroke-width="1.1" />
<line x1="166.8" y1="454.4" x2="170.8" y2="454.4" stroke="#cc1010" stroke-width="1.5" />
<line x1="170.8" y1="453.65" x2="170.8" y2="550.15" stroke="#cc1010" stroke-width="1.7" />
<line x1="168.8" y1="547.93" x2="170.8" y2="547.93" stroke="#cc1010" stroke-width="1.0" />
<line x1="168.8" y1="545.99" x2="170.8" y2="545.99" stroke="#cc1010" stroke-width="1.0" />
<line x1="168.8" y1="544.31" x2="170.8" y2="544.31" stroke="#cc1010" stroke-width="1.0" />
<line x1="168.8" y1="542.83" x2="170.8" y2="542.83" stroke="#cc1010" stroke-width="1.0" />
<line x1="167.3" y1="541.5" x2="170.8" y2="541.5" stroke="#cc1010" stroke-width="1.0" />
<line x1="168.8" y1="532.77" x2="170.8" y2="532.77" stroke="#cc1010" stroke-width="1.0" />
<line x1="168.8" y1="527.66" x2="170.8" y2="527.66" stroke="#cc1010" stroke-width="1.0" />
<line x1="168.8" y1="524.04" x2="170.8" y2="524.04" stroke="#cc1010" stroke-width="1.0" />
<line x1="168.8" y1="521.23" x2="170.8" y2="521.23" stroke="#cc1010" stroke-width="1.0" />
<line x1="168.8" y1="518.93" x2="170.8" y2="518.93" stroke="#cc1010" stroke-width="1.0" />
<line x1="168.8" y1="516.99" x2="170.8" y2="516.99" stroke="#cc1010" stroke-width="1.0" />
<line x1="168.8" y1="515.31" x2="170.8" y2="515.31" stroke="#cc1010" stroke-width="1.0" />
<line x1="168.8" y1="513.83" x2="170.8" y2="513.83" stroke="#cc1010" stroke-width="1.0" />
<line x1="167.3" y1="512.5" x2="170.8" y2="512.5" stroke="#cc1010" stroke-width="1.0" />
<line x1="168.8" y1="503.77" x2="170.8" y2="503.77" stroke="#cc1010" stroke-width="1.0" />
<line x1="168.8" y1="498.66" x2="170.8" y2="498.66" stroke="#cc1010" stroke-width="1.0" />
<line x1="168.8" y1="495.04" x2="170.8" y2="495.04" stroke="#cc1010" stroke-width="1.0" />
<line x1="168.8" y1="492.23" x2="170.8" y2="492.23" stroke="#cc1010" stroke-width="1.0" />
<line x1="168.8" y1="489.93" x2="170.8" y2="489.93" stroke="#cc1010" stroke-width="1.0" />
<line x1="168.8" y1="487.99" x2="170.8" y2="487.99" stroke="#cc1010" stroke-width="1.0" />
<line x1="168.8" y1="486.31" x2="170.8" y2="486.31" stroke="#cc1010" stroke-width="1.0" />
<line x1="168.8" y1="484.83" x2="170.8" y2="484.83" stroke="#cc1010" stroke-width="1.0" />
<line x1="167.3" y1="483.5" x2="170.8" y2="483.5" stroke="#cc1010" stroke-width="1.0" />
<line x1="168.8" y1="474.77" x2="170.8" y2="474.77" stroke="#cc1010" stroke-width="1.0" />
<line x1="168.8" y1="469.66" x2="170.8" y2="469.66" stroke="#cc1010" stroke-width="1.0" />
<line x1="168.8" y1="466.04" x2="170.8" y2="466.04" stroke="#cc1010" stroke-width="1.0" />
<line x1="168.8" y1="463.23" x2="170.8" y2="463.23" stroke="#cc1010" stroke-width="1.0" />
<line x1="168.8" y1="460.93" x2="170.8" y2="460.93" stroke="#cc1010" stroke-width="1.0" />
<line x1="168.8" y1="458.99" x2="170.8" y2="458.99" stroke="#cc1010" stroke-width="1.0" />
<line x1="168.8" y1="457.31" x2="170.8" y2="457.31" stroke="#cc1010" stroke-width="1.0" />
<line x1="168.8" y1="455.83" x2="170.8" y2="455.83" stroke="#cc1010" stroke-width="1.0" />
<line x1="167.3" y1="454.5" x2="170.8" y2="454.5" stroke="#cc1010" stroke-width="1.0" />
<text x="47.6" y="463.8" font-size="12" text-anchor="end" fill="#000"  stroke="#000" stroke-width="0.25">1</text>
<text x="47.8" y="508.6" font-size="12" text-anchor="end" fill="#000"  stroke="#000" stroke-width="0.25">0</text>
<text x="48.2" y="553.5" font-size="12" text-anchor="end" fill="#000"  stroke="#000" stroke-width="0.25">−1</text>
<text x="52" y="566.4" font-size="12" text-anchor="middle" fill="#000"  stroke="#000" stroke-width="0.25">−3</text>
<text x="113.4" y="566.4" font-size="12" text-anchor="middle" fill="#000"  stroke="#000" stroke-width="0.25">0</text>
<text x="171.3" y="566.4" font-size="12" text-anchor="middle" fill="#000"  stroke="#000" stroke-width="0.25">3</text>
<text x="0" y="0" class="k" font-size="12" text-anchor="middle" transform="translate(14.9,501.6) rotate(-90)">CI</text>
<path d="M208,504 C209.33,504 210.37,504 211.7,504 C213.7,504 222.15,504.22 223.7,504 C224.73,503.85 225.35,502.94 225.8,502 C226.47,500.58 226.78,498.84 227,497 C227.32,494.24 227.56,489.32 227.8,485 C228.1,479.6 228.25,473.53 228.5,470 C228.66,467.65 229.08,464.32 229.3,463.5 C229.44,462.96 229.96,462.64 230.5,462.5 C231.32,462.29 232.74,462.3 234,462.3 C235.51,462.3 236.7,462.28 238.2,462.5 C239.6,462.71 240.66,463.06 242,463.5 C243.5,464 244.68,464.39 246.1,465.1 C247.93,466.02 249.26,466.92 251,468 C253.08,469.29 254.72,470.26 256.7,471.7 C258.69,473.15 260.15,474.38 262,476 C263.97,477.73 265.42,479.18 267.3,481 C268.84,482.49 269.99,483.69 271.5,485.2 C272.83,486.53 273.85,487.59 275.2,488.9 C276.19,489.86 276.96,490.6 278,491.5 C278.87,492.26 279.9,492.52 280.5,493.5 C281.39,494.95 281.61,496.34 282,498 C282.58,500.49 282.72,502.49 283.2,505 C283.62,507.17 283.98,509.16 284.5,511 C284.84,512.23 285.23,513.16 285.8,514.3 C286.49,515.69 287.29,516.62 288,518 C288.73,519.4 289.37,520.48 289.8,522 C290.39,524.11 290.55,525.82 290.8,528 C291.17,531.23 291.2,533.76 291.5,537 C291.71,539.24 291.85,542.25 292.2,543.2 C292.44,543.83 293.33,543.6 294,543.7 C294.86,543.82 295.54,543.81 296.4,543.8 C297.7,543.78 299.04,543.75 300,543.6 C300.64,543.5 301.25,543.47 301.7,543 C302.38,542.3 302.99,541.15 303.5,540 C304.27,538.28 304.8,536.49 305.5,534.5 C306.06,532.89 306.53,531.64 307,530 C307.61,527.86 307.96,526.16 308.5,524 C308.9,522.42 309.19,520.54 309.6,519.6 C309.88,518.97 310.41,518.65 311,518.3 C311.41,518.06 311.84,518.14 312.3,518 C312.78,517.85 313.25,517.85 313.6,517.5 C314.13,516.97 314.63,516.25 314.9,515.4 C315.31,514.13 315.46,512.59 315.7,511 C315.97,509.21 315.91,507.57 316.3,506 C316.56,504.95 317.13,504.27 317.6,503.3" fill="none" stroke="#111" stroke-width="1.5" />
<path d="M230.75,549.6 L231.75,544.43 L232.74,539.42 L233.74,534.55 L234.73,529.84 L235.73,525.27 L236.72,520.85 L237.72,516.59 L238.72,512.47 L239.71,508.5 L240.71,504.69 L241.7,501.02 L242.7,497.5 L243.69,494.13 L244.69,490.91 L245.69,487.84 L246.68,484.92 L247.68,482.15 L248.67,479.53 L249.67,477.06 L250.66,474.74 L251.66,472.57 L252.66,470.55 L253.65,468.68 L254.65,466.96 L255.64,465.39 L256.64,463.96 L257.63,462.69 L258.63,461.57 L259.63,460.59 L260.62,459.77 L261.62,459.1 L262.61,458.57 L263.61,458.2 L264.6,457.97 L265.6,457.9 L266.6,457.97 L267.59,458.2 L268.59,458.57 L269.58,459.1 L270.58,459.77 L271.57,460.59 L272.57,461.57 L273.57,462.69 L274.56,463.96 L275.56,465.39 L276.55,466.96 L277.55,468.68 L278.54,470.55 L279.54,472.57 L280.54,474.74 L281.53,477.06 L282.53,479.53 L283.52,482.15 L284.52,484.92 L285.51,487.84 L286.51,490.91 L287.51,494.13 L288.5,497.5 L289.5,501.02 L290.49,504.69 L291.49,508.5 L292.48,512.47 L293.48,516.59 L294.48,520.85 L295.47,525.27 L296.47,529.84 L297.46,534.55 L298.46,539.42 L299.45,544.43 L300.45,549.6" fill="none" stroke="#c82222" stroke-width="1.5" stroke-dasharray="4,3.5"/>
<path d="M322.6,454.4 L208,454.4 L208,549.4 L322.6,549.4" fill="none" stroke="#111" stroke-width="1.5"/>
<line x1="212.2" y1="549.4" x2="212.2" y2="545.6" stroke="#111" stroke-width="1.1" />
<line x1="238.7" y1="549.4" x2="238.7" y2="545.6" stroke="#111" stroke-width="1.1" />
<line x1="265.2" y1="549.4" x2="265.2" y2="545.6" stroke="#111" stroke-width="1.1" />
<line x1="291.7" y1="549.4" x2="291.7" y2="545.6" stroke="#111" stroke-width="1.1" />
<line x1="318.2" y1="549.4" x2="318.2" y2="545.6" stroke="#111" stroke-width="1.1" />
<line x1="208" y1="459.2" x2="211.8" y2="459.2" stroke="#111" stroke-width="1.1" />
<line x1="208" y1="481.65" x2="211.8" y2="481.65" stroke="#111" stroke-width="1.1" />
<line x1="208" y1="504.1" x2="211.8" y2="504.1" stroke="#111" stroke-width="1.1" />
<line x1="208" y1="526.55" x2="211.8" y2="526.55" stroke="#111" stroke-width="1.1" />
<line x1="318.6" y1="454.4" x2="322.6" y2="454.4" stroke="#cc1010" stroke-width="1.5" />
<line x1="322.6" y1="453.65" x2="322.6" y2="550.15" stroke="#cc1010" stroke-width="1.7" />
<line x1="320.6" y1="547.93" x2="322.6" y2="547.93" stroke="#cc1010" stroke-width="1.0" />
<line x1="320.6" y1="545.99" x2="322.6" y2="545.99" stroke="#cc1010" stroke-width="1.0" />
<line x1="320.6" y1="544.31" x2="322.6" y2="544.31" stroke="#cc1010" stroke-width="1.0" />
<line x1="320.6" y1="542.83" x2="322.6" y2="542.83" stroke="#cc1010" stroke-width="1.0" />
<line x1="319.1" y1="541.5" x2="322.6" y2="541.5" stroke="#cc1010" stroke-width="1.0" />
<line x1="320.6" y1="532.77" x2="322.6" y2="532.77" stroke="#cc1010" stroke-width="1.0" />
<line x1="320.6" y1="527.66" x2="322.6" y2="527.66" stroke="#cc1010" stroke-width="1.0" />
<line x1="320.6" y1="524.04" x2="322.6" y2="524.04" stroke="#cc1010" stroke-width="1.0" />
<line x1="320.6" y1="521.23" x2="322.6" y2="521.23" stroke="#cc1010" stroke-width="1.0" />
<line x1="320.6" y1="518.93" x2="322.6" y2="518.93" stroke="#cc1010" stroke-width="1.0" />
<line x1="320.6" y1="516.99" x2="322.6" y2="516.99" stroke="#cc1010" stroke-width="1.0" />
<line x1="320.6" y1="515.31" x2="322.6" y2="515.31" stroke="#cc1010" stroke-width="1.0" />
<line x1="320.6" y1="513.83" x2="322.6" y2="513.83" stroke="#cc1010" stroke-width="1.0" />
<line x1="319.1" y1="512.5" x2="322.6" y2="512.5" stroke="#cc1010" stroke-width="1.0" />
<line x1="320.6" y1="503.77" x2="322.6" y2="503.77" stroke="#cc1010" stroke-width="1.0" />
<line x1="320.6" y1="498.66" x2="322.6" y2="498.66" stroke="#cc1010" stroke-width="1.0" />
<line x1="320.6" y1="495.04" x2="322.6" y2="495.04" stroke="#cc1010" stroke-width="1.0" />
<line x1="320.6" y1="492.23" x2="322.6" y2="492.23" stroke="#cc1010" stroke-width="1.0" />
<line x1="320.6" y1="489.93" x2="322.6" y2="489.93" stroke="#cc1010" stroke-width="1.0" />
<line x1="320.6" y1="487.99" x2="322.6" y2="487.99" stroke="#cc1010" stroke-width="1.0" />
<line x1="320.6" y1="486.31" x2="322.6" y2="486.31" stroke="#cc1010" stroke-width="1.0" />
<line x1="320.6" y1="484.83" x2="322.6" y2="484.83" stroke="#cc1010" stroke-width="1.0" />
<line x1="319.1" y1="483.5" x2="322.6" y2="483.5" stroke="#cc1010" stroke-width="1.0" />
<line x1="320.6" y1="474.77" x2="322.6" y2="474.77" stroke="#cc1010" stroke-width="1.0" />
<line x1="320.6" y1="469.66" x2="322.6" y2="469.66" stroke="#cc1010" stroke-width="1.0" />
<line x1="320.6" y1="466.04" x2="322.6" y2="466.04" stroke="#cc1010" stroke-width="1.0" />
<line x1="320.6" y1="463.23" x2="322.6" y2="463.23" stroke="#cc1010" stroke-width="1.0" />
<line x1="320.6" y1="460.93" x2="322.6" y2="460.93" stroke="#cc1010" stroke-width="1.0" />
<line x1="320.6" y1="458.99" x2="322.6" y2="458.99" stroke="#cc1010" stroke-width="1.0" />
<line x1="320.6" y1="457.31" x2="322.6" y2="457.31" stroke="#cc1010" stroke-width="1.0" />
<line x1="320.6" y1="455.83" x2="322.6" y2="455.83" stroke="#cc1010" stroke-width="1.0" />
<line x1="319.1" y1="454.5" x2="322.6" y2="454.5" stroke="#cc1010" stroke-width="1.0" />
<text x="199.6" y="463.8" font-size="12" text-anchor="end" fill="#000"  stroke="#000" stroke-width="0.25">1</text>
<text x="199.8" y="508.6" font-size="12" text-anchor="end" fill="#000"  stroke="#000" stroke-width="0.25">0</text>
<text x="200.2" y="553.5" font-size="12" text-anchor="end" fill="#000"  stroke="#000" stroke-width="0.25">−1</text>
<text x="211.2" y="566.4" font-size="12" text-anchor="middle" fill="#000"  stroke="#000" stroke-width="0.25">−10</text>
<text x="265.4" y="566.4" font-size="12" text-anchor="middle" fill="#000"  stroke="#000" stroke-width="0.25">0</text>
<text x="318.6" y="566.4" font-size="12" text-anchor="middle" fill="#000"  stroke="#000" stroke-width="0.25">10</text>
<text x="328.8" y="459.7" font-size="12" text-anchor="start" fill="#cc1a1a"  stroke="#cc1a1a" stroke-width="0.25">1000</text>
<text x="327" y="488.9" font-size="12" text-anchor="start" fill="#cc1a1a"  stroke="#cc1a1a" stroke-width="0.25">100</text>
<text x="325.8" y="518" font-size="12" text-anchor="start" fill="#cc1a1a"  stroke="#cc1a1a" stroke-width="0.25">10</text>
<text x="325.8" y="546.2" font-size="12" text-anchor="start" fill="#cc1a1a"  stroke="#cc1a1a" stroke-width="0.25">1</text>
<text x="0" y="0" class="r" font-size="12" text-anchor="middle" fill="#cc1a1a" transform="translate(373.4,500) rotate(-90)">cAMP (nM)</text>
<text x="173.5" y="594" font-size="12.5" text-anchor="middle" fill="#000"  stroke="#000" stroke-width="0.25">Time (min)</text>
<text x="455.4" y="309.1" font-size="29" text-anchor="start" fill="#000"  stroke="#000" stroke-width="0.25">D</text>
<path d="M550.8,386 L553.1,388.38 L555.4,389.12 L557.7,389.82 L560,390.32 L562.3,390.67 L564.6,391.02 L566.9,391.38 L569.2,391.63 L571.5,390.87 L573.8,389.38 L576.1,389.88 L578.4,386.49 L580.7,382.41 L583,378.13 L585.3,373.68 L587.6,369.57 L589.9,365.45 L592.2,360.92 L594.5,363.04 L596.8,367.08 L599.1,368.5 L601.4,370.67 L603.7,371.46 L606,371.68 L608.3,371.17 L610.6,370.98 L612.9,371.67 L615.2,372.67 L617.5,373.94 L619.8,375.81 L622.1,377.35 L624.4,378.5 L626.7,381.58 L629,382.91 L631.3,383.65 L633.6,384.24 L635.9,384.82 L638.2,385.4 L640.5,387.16 L642.8,387.4 L645.1,387.64 L647.4,387.87 L649.7,388.07 L652,388.22 L654.3,388.36 L656.6,388.51 L658.9,388.67 L661.2,388.87 L663.5,389.06 L665.8,388.25 L668.1,388.43 L670.4,388.58 L672.7,388.72 L675,388.87 L677.3,388.96 L679.6,388.49 L681.9,388.02 L684.2,387.72 L686.5,387.43 L688.8,387.68 L688.8,398.88 L686.5,398.63 L684.2,398.92 L681.9,399.22 L679.6,399.69 L677.3,400.16 L675,400.07 L672.7,399.92 L670.4,399.78 L668.1,399.63 L665.8,399.45 L663.5,398.26 L661.2,398.07 L658.9,397.87 L656.6,397.71 L654.3,397.56 L652,397.42 L649.7,397.27 L647.4,397.07 L645.1,396.84 L642.8,396.6 L640.5,396.36 L638.2,397.4 L635.9,396.82 L633.6,396.24 L631.3,395.65 L629,394.91 L626.7,393.58 L624.4,394.1 L622.1,392.95 L619.8,391.41 L617.5,389.54 L615.2,388.27 L612.9,387.27 L610.6,386.58 L608.3,386.77 L606,387.28 L603.7,387.06 L601.4,386.27 L599.1,384.1 L596.8,379.08 L594.5,375.04 L592.2,372.92 L589.9,374.45 L587.6,378.57 L585.3,382.68 L583,387.13 L580.7,391.41 L578.4,395.49 L576.1,398.88 L573.8,404.38 L571.5,405.87 L569.2,406.63 L566.9,406.38 L564.6,406.02 L562.3,405.67 L560,405.32 L557.7,404.82 L555.4,404.12 L553.1,403.38 L550.8,404 Z" fill="#c2c2f6" stroke="none"/>
<path d="M550.8,386 V404 M549.4,386 H552.2 M549.4,404 H552.2 M553.1,388.38 V403.38 M551.7,388.38 H554.5 M551.7,403.38 H554.5 M555.4,389.12 V404.12 M554,389.12 H556.8 M554,404.12 H556.8 M557.7,389.82 V404.82 M556.3,389.82 H559.1 M556.3,404.82 H559.1 M560,390.32 V405.32 M558.6,390.32 H561.4 M558.6,405.32 H561.4 M562.3,390.67 V405.67 M560.9,390.67 H563.7 M560.9,405.67 H563.7 M564.6,391.02 V406.02 M563.2,391.02 H566 M563.2,406.02 H566 M566.9,391.38 V406.38 M565.5,391.38 H568.3 M565.5,406.38 H568.3 M569.2,391.63 V406.63 M567.8,391.63 H570.6 M567.8,406.63 H570.6 M571.5,390.87 V405.87 M570.1,390.87 H572.9 M570.1,405.87 H572.9 M573.8,389.38 V404.38 M572.4,389.38 H575.2 M572.4,404.38 H575.2 M576.1,389.88 V398.88 M574.7,389.88 H577.5 M574.7,398.88 H577.5 M578.4,386.49 V395.49 M577,386.49 H579.8 M577,395.49 H579.8 M580.7,382.41 V391.41 M579.3,382.41 H582.1 M579.3,391.41 H582.1 M583,378.13 V387.13 M581.6,378.13 H584.4 M581.6,387.13 H584.4 M585.3,373.68 V382.68 M583.9,373.68 H586.7 M583.9,382.68 H586.7 M587.6,369.57 V378.57 M586.2,369.57 H589 M586.2,378.57 H589 M589.9,365.45 V374.45 M588.5,365.45 H591.3 M588.5,374.45 H591.3 M592.2,360.92 V372.92 M590.8,360.92 H593.6 M590.8,372.92 H593.6 M594.5,363.04 V375.04 M593.1,363.04 H595.9 M593.1,375.04 H595.9 M596.8,367.08 V379.08 M595.4,367.08 H598.2 M595.4,379.08 H598.2 M599.1,368.5 V384.1 M597.7,368.5 H600.5 M597.7,384.1 H600.5 M601.4,370.67 V386.27 M600,370.67 H602.8 M600,386.27 H602.8 M603.7,371.46 V387.06 M602.3,371.46 H605.1 M602.3,387.06 H605.1 M606,371.68 V387.28 M604.6,371.68 H607.4 M604.6,387.28 H607.4 M608.3,371.17 V386.77 M606.9,371.17 H609.7 M606.9,386.77 H609.7 M610.6,370.98 V386.58 M609.2,370.98 H612 M609.2,386.58 H612 M612.9,371.67 V387.27 M611.5,371.67 H614.3 M611.5,387.27 H614.3 M615.2,372.67 V388.27 M613.8,372.67 H616.6 M613.8,388.27 H616.6 M617.5,373.94 V389.54 M616.1,373.94 H618.9 M616.1,389.54 H618.9 M619.8,375.81 V391.41 M618.4,375.81 H621.2 M618.4,391.41 H621.2 M622.1,377.35 V392.95 M620.7,377.35 H623.5 M620.7,392.95 H623.5 M624.4,378.5 V394.1 M623,378.5 H625.8 M623,394.1 H625.8 M626.7,381.58 V393.58 M625.3,381.58 H628.1 M625.3,393.58 H628.1 M629,382.91 V394.91 M627.6,382.91 H630.4 M627.6,394.91 H630.4 M631.3,383.65 V395.65 M629.9,383.65 H632.7 M629.9,395.65 H632.7 M633.6,384.24 V396.24 M632.2,384.24 H635 M632.2,396.24 H635 M635.9,384.82 V396.82 M634.5,384.82 H637.3 M634.5,396.82 H637.3 M638.2,385.4 V397.4 M636.8,385.4 H639.6 M636.8,397.4 H639.6 M640.5,387.16 V396.36 M639.1,387.16 H641.9 M639.1,396.36 H641.9 M642.8,387.4 V396.6 M641.4,387.4 H644.2 M641.4,396.6 H644.2 M645.1,387.64 V396.84 M643.7,387.64 H646.5 M643.7,396.84 H646.5 M647.4,387.87 V397.07 M646,387.87 H648.8 M646,397.07 H648.8 M649.7,388.07 V397.27 M648.3,388.07 H651.1 M648.3,397.27 H651.1 M652,388.22 V397.42 M650.6,388.22 H653.4 M650.6,397.42 H653.4 M654.3,388.36 V397.56 M652.9,388.36 H655.7 M652.9,397.56 H655.7 M656.6,388.51 V397.71 M655.2,388.51 H658 M655.2,397.71 H658 M658.9,388.67 V397.87 M657.5,388.67 H660.3 M657.5,397.87 H660.3 M661.2,388.87 V398.07 M659.8,388.87 H662.6 M659.8,398.07 H662.6 M663.5,389.06 V398.26 M662.1,389.06 H664.9 M662.1,398.26 H664.9 M665.8,388.25 V399.45 M664.4,388.25 H667.2 M664.4,399.45 H667.2 M668.1,388.43 V399.63 M666.7,388.43 H669.5 M666.7,399.63 H669.5 M670.4,388.58 V399.78 M669,388.58 H671.8 M669,399.78 H671.8 M672.7,388.72 V399.92 M671.3,388.72 H674.1 M671.3,399.92 H674.1 M675,388.87 V400.07 M673.6,388.87 H676.4 M673.6,400.07 H676.4 M677.3,388.96 V400.16 M675.9,388.96 H678.7 M675.9,400.16 H678.7 M679.6,388.49 V399.69 M678.2,388.49 H681 M678.2,399.69 H681 M681.9,388.02 V399.22 M680.5,388.02 H683.3 M680.5,399.22 H683.3 M684.2,387.72 V398.92 M682.8,387.72 H685.6 M682.8,398.92 H685.6 M686.5,387.43 V398.63 M685.1,387.43 H687.9 M685.1,398.63 H687.9 M688.8,387.68 V398.88 M687.4,387.68 H690.2 M687.4,398.88 H690.2 " fill="none" stroke="#6a6af0" stroke-width="0.7"/>
<path d="M545,390.6 L547.3,391.62 L549.6,391.35 L551.9,382.27 L554.2,381.56 L556.5,381.55 L558.8,381.74 L561.1,383.33 L563.4,384.08 L565.7,385.66 L568,387.72 L570.3,385.48 L572.6,382.4 L574.9,377.42 L577.2,367.76 L579.5,355.08 L581.8,337.43 L584.1,324.71 L586.4,318.84 L588.7,316.43 L591,315.83 L593.3,317.63 L595.6,322.15 L597.9,326.79 L600.2,327.48 L602.5,327 L604.8,324.7 L607.1,322.4 L609.4,320.1 L611.7,319.34 L614,320.6 L616.3,323.73 L618.6,328.13 L620.9,333.4 L623.2,342.3 L625.5,349.12 L627.8,356.82 L630.1,364.2 L632.4,373.13 L634.7,378.64 L637,383.33 L639.3,387.09 L641.6,390.68 L643.9,393.88 L646.2,395.82 L648.5,397.3 L650.8,399.89 L653.1,400.62 L655.4,401.07 L657.7,401.35 L660,401.07 L662.3,400.66 L664.6,399.82 L666.9,398.17 L669.2,396.52 L671.5,394.59 L673.8,392.63 L676.1,390.79 L678.4,389.69 L680.7,389.61 L683,390.58 L685.3,390.17 L687.6,391.15 L689.9,392.86 L689.9,400.86 L687.6,399.15 L685.3,398.17 L683,398.58 L680.7,397.61 L678.4,397.69 L676.1,398.79 L673.8,400.63 L671.5,402.59 L669.2,404.52 L666.9,406.17 L664.6,407.82 L662.3,408.66 L660,409.07 L657.7,409.35 L655.4,409.07 L653.1,408.62 L650.8,407.89 L648.5,408.3 L646.2,406.82 L643.9,404.88 L641.6,401.68 L639.3,398.09 L637,394.33 L634.7,389.64 L632.4,384.13 L630.1,380.2 L627.8,372.82 L625.5,365.12 L623.2,358.3 L620.9,353.4 L618.6,348.13 L616.3,343.73 L614,340.6 L611.7,339.34 L609.4,340.1 L607.1,342.4 L604.8,344.7 L602.5,347 L600.2,347.48 L597.9,344.79 L595.6,340.15 L593.3,335.63 L591,333.83 L588.7,334.43 L586.4,336.84 L584.1,342.71 L581.8,355.43 L579.5,364.08 L577.2,376.76 L574.9,386.42 L572.6,391.4 L570.3,394.48 L568,394.12 L565.7,392.06 L563.4,390.48 L561.1,389.73 L558.8,388.14 L556.5,387.95 L554.2,387.96 L551.9,388.67 L549.6,397.75 L547.3,398.02 L545,397 Z" fill="#d2d2d2" stroke="none"/>
<path d="M545,390.6 V397 M543.6,390.6 H546.4 M543.6,397 H546.4 M547.3,391.62 V398.02 M545.9,391.62 H548.7 M545.9,398.02 H548.7 M549.6,391.35 V397.75 M548.2,391.35 H551 M548.2,397.75 H551 M551.9,382.27 V388.67 M550.5,382.27 H553.3 M550.5,388.67 H553.3 M554.2,381.56 V387.96 M552.8,381.56 H555.6 M552.8,387.96 H555.6 M556.5,381.55 V387.95 M555.1,381.55 H557.9 M555.1,387.95 H557.9 M558.8,381.74 V388.14 M557.4,381.74 H560.2 M557.4,388.14 H560.2 M561.1,383.33 V389.73 M559.7,383.33 H562.5 M559.7,389.73 H562.5 M563.4,384.08 V390.48 M562,384.08 H564.8 M562,390.48 H564.8 M565.7,385.66 V392.06 M564.3,385.66 H567.1 M564.3,392.06 H567.1 M568,387.72 V394.12 M566.6,387.72 H569.4 M566.6,394.12 H569.4 M570.3,385.48 V394.48 M568.9,385.48 H571.7 M568.9,394.48 H571.7 M572.6,382.4 V391.4 M571.2,382.4 H574 M571.2,391.4 H574 M574.9,377.42 V386.42 M573.5,377.42 H576.3 M573.5,386.42 H576.3 M577.2,367.76 V376.76 M575.8,367.76 H578.6 M575.8,376.76 H578.6 M579.5,355.08 V364.08 M578.1,355.08 H580.9 M578.1,364.08 H580.9 M581.8,337.43 V355.43 M580.4,337.43 H583.2 M580.4,355.43 H583.2 M584.1,324.71 V342.71 M582.7,324.71 H585.5 M582.7,342.71 H585.5 M586.4,318.84 V336.84 M585,318.84 H587.8 M585,336.84 H587.8 M588.7,316.43 V334.43 M587.3,316.43 H590.1 M587.3,334.43 H590.1 M591,315.83 V333.83 M589.6,315.83 H592.4 M589.6,333.83 H592.4 M593.3,317.63 V335.63 M591.9,317.63 H594.7 M591.9,335.63 H594.7 M595.6,322.15 V340.15 M594.2,322.15 H597 M594.2,340.15 H597 M597.9,326.79 V344.79 M596.5,326.79 H599.3 M596.5,344.79 H599.3 M600.2,327.48 V347.48 M598.8,327.48 H601.6 M598.8,347.48 H601.6 M602.5,327 V347 M601.1,327 H603.9 M601.1,347 H603.9 M604.8,324.7 V344.7 M603.4,324.7 H606.2 M603.4,344.7 H606.2 M607.1,322.4 V342.4 M605.7,322.4 H608.5 M605.7,342.4 H608.5 M609.4,320.1 V340.1 M608,320.1 H610.8 M608,340.1 H610.8 M611.7,319.34 V339.34 M610.3,319.34 H613.1 M610.3,339.34 H613.1 M614,320.6 V340.6 M612.6,320.6 H615.4 M612.6,340.6 H615.4 M616.3,323.73 V343.73 M614.9,323.73 H617.7 M614.9,343.73 H617.7 M618.6,328.13 V348.13 M617.2,328.13 H620 M617.2,348.13 H620 M620.9,333.4 V353.4 M619.5,333.4 H622.3 M619.5,353.4 H622.3 M623.2,342.3 V358.3 M621.8,342.3 H624.6 M621.8,358.3 H624.6 M625.5,349.12 V365.12 M624.1,349.12 H626.9 M624.1,365.12 H626.9 M627.8,356.82 V372.82 M626.4,356.82 H629.2 M626.4,372.82 H629.2 M630.1,364.2 V380.2 M628.7,364.2 H631.5 M628.7,380.2 H631.5 M632.4,373.13 V384.13 M631,373.13 H633.8 M631,384.13 H633.8 M634.7,378.64 V389.64 M633.3,378.64 H636.1 M633.3,389.64 H636.1 M637,383.33 V394.33 M635.6,383.33 H638.4 M635.6,394.33 H638.4 M639.3,387.09 V398.09 M637.9,387.09 H640.7 M637.9,398.09 H640.7 M641.6,390.68 V401.68 M640.2,390.68 H643 M640.2,401.68 H643 M643.9,393.88 V404.88 M642.5,393.88 H645.3 M642.5,404.88 H645.3 M646.2,395.82 V406.82 M644.8,395.82 H647.6 M644.8,406.82 H647.6 M648.5,397.3 V408.3 M647.1,397.3 H649.9 M647.1,408.3 H649.9 M650.8,399.89 V407.89 M649.4,399.89 H652.2 M649.4,407.89 H652.2 M653.1,400.62 V408.62 M651.7,400.62 H654.5 M651.7,408.62 H654.5 M655.4,401.07 V409.07 M654,401.07 H656.8 M654,409.07 H656.8 M657.7,401.35 V409.35 M656.3,401.35 H659.1 M656.3,409.35 H659.1 M660,401.07 V409.07 M658.6,401.07 H661.4 M658.6,409.07 H661.4 M662.3,400.66 V408.66 M660.9,400.66 H663.7 M660.9,408.66 H663.7 M664.6,399.82 V407.82 M663.2,399.82 H666 M663.2,407.82 H666 M666.9,398.17 V406.17 M665.5,398.17 H668.3 M665.5,406.17 H668.3 M669.2,396.52 V404.52 M667.8,396.52 H670.6 M667.8,404.52 H670.6 M671.5,394.59 V402.59 M670.1,394.59 H672.9 M670.1,402.59 H672.9 M673.8,392.63 V400.63 M672.4,392.63 H675.2 M672.4,400.63 H675.2 M676.1,390.79 V398.79 M674.7,390.79 H677.5 M674.7,398.79 H677.5 M678.4,389.69 V397.69 M677,389.69 H679.8 M677,397.69 H679.8 M680.7,389.61 V397.61 M679.3,389.61 H682.1 M679.3,397.61 H682.1 M683,390.58 V398.58 M681.6,390.58 H684.4 M681.6,398.58 H684.4 M685.3,390.17 V398.17 M683.9,390.17 H686.7 M683.9,398.17 H686.7 M687.6,391.15 V399.15 M686.2,391.15 H689 M686.2,399.15 H689 M689.9,392.86 V400.86 M688.5,392.86 H691.3 M688.5,400.86 H691.3 " fill="none" stroke="#8a8a8a" stroke-width="0.7"/>
<path d="M550.8,395 C551.74,395.36 552.45,395.68 553.4,396 C554.83,396.48 556.69,397.16 558.6,397.6 C560.45,398.03 561.93,398.11 563.8,398.4 C565.67,398.69 567.29,399.24 569,399.2 C570.14,399.17 571,398.74 572,398.2 C573.18,397.57 574.12,397.01 575,396 C576.32,394.49 577.54,392.48 578.8,390.4 C580.24,388.02 581.19,386.06 582.5,383.6 C583.64,381.45 584.45,379.74 585.6,377.6 C586.64,375.67 587.53,374.21 588.6,372.3 C589.54,370.61 590.45,368.59 591.2,367.6 C591.7,366.94 592.43,365.81 593.1,366.3 C594.1,367.03 594.46,369.08 595.3,370.6 C596.08,372 596.69,373.09 597.6,374.4 C598.6,375.83 599.18,377.19 600.6,378.2 C601.96,379.17 603.33,379.63 605,379.7 C606.84,379.78 608.16,378.58 610,378.6 C611.5,378.62 612.61,379.22 614,379.8 C615.37,380.38 616.38,380.96 617.6,381.8 C618.91,382.7 619.67,383.74 621,384.6 C622.35,385.48 623.58,385.83 625,386.6 C626.65,387.49 627.74,388.57 629.5,389.2 C632.14,390.14 635.53,390.98 639,391.6 C642.42,392.21 645.14,392.31 648.6,392.6 C651.98,392.88 654.62,392.95 658,393.2 C661.46,393.45 664.14,393.75 667.6,394 C671.02,394.25 674.4,394.67 677.1,394.6 C678.9,394.55 680.22,393.9 682,393.6 C683.68,393.32 684.99,393.02 686.7,393 C688.08,392.98 689.13,393.32 690.5,393.5" fill="none" stroke="#3a3ae8" stroke-width="1.0" />
<path d="M545,393.8 C545.97,394.23 546.65,394.85 547.7,395 C548.47,395.11 549.49,395.21 549.8,394.5 C550.26,393.43 551.18,386.83 551.8,385.5 C552.22,384.61 553.43,384.8 554.4,384.7 C555.86,384.55 557.14,384.39 558.6,384.8 C559.7,385.11 560.18,386.09 561.2,386.6 C562.08,387.04 562.94,386.94 563.8,387.4 C564.84,387.96 565.5,388.64 566.4,389.4 C567.16,390.04 567.41,391.28 568.4,391.3 C569.54,391.32 570.27,390.38 571,389.5 C572.09,388.19 573.33,386.32 574.2,384.3 C575.21,381.96 575.63,379.99 576.2,377.5 C577.06,373.77 577.58,370.47 578.3,366.5 C579.37,360.55 580.2,355.42 581.3,349.2 C582.36,343.22 583.3,336.49 584.3,332.6 C584.96,330.01 585.91,327.4 587.3,325.8 C588.23,324.73 589.72,324.5 591.1,324.8 C592.47,325.1 593.35,326.11 594.1,327.3 C595.23,329.08 595.44,331.13 596.4,333.2 C597.07,334.63 597.43,335.94 598.6,337 C599.44,337.76 600.56,338.34 601.6,337.9 C603.16,337.24 604.03,335.47 605.4,334.1 C607.02,332.48 608.63,330.45 609.9,329.6 C610.75,329.03 611.77,328.78 612.7,329.2 C614,329.79 614.58,330.93 615.4,332.1 C616.51,333.69 617.14,335.07 618,336.8 C619.05,338.92 619.85,340.59 620.7,342.8 C621.8,345.67 622.42,347.99 623.4,350.9 C624.37,353.78 625.2,356 626.1,358.9 C627.14,362.26 627.76,364.94 628.8,368.3 C629.71,371.24 630.45,373.51 631.5,376.4 C632.39,378.84 633.16,380.72 634.2,383.1 C635.07,385.08 635.75,386.61 636.8,388.5 C638.17,390.97 639.35,392.83 640.9,395.2 C642.02,396.9 642.81,398.31 644.2,399.8 C645.21,400.89 646.24,401.5 647.5,402.3 C648.52,402.95 649.38,403.35 650.5,403.8 C651.73,404.29 652.71,404.63 654,404.9 C655.46,405.21 656.61,405.48 658.1,405.4 C660.18,405.29 661.9,405.25 663.8,404.4 C666.11,403.37 667.51,401.86 669.5,400.3 C671.29,398.9 672.82,397.43 674.3,396.2 C675.29,395.38 675.96,394.58 677.1,394 C678.06,393.51 678.93,393.19 680,393.3 C681.14,393.42 681.77,394.44 682.9,394.6 C683.91,394.74 684.69,393.91 685.7,394.1 C686.87,394.33 687.62,395.02 688.6,395.7 C689.36,396.22 689.82,396.79 690.5,397.4" fill="none" stroke="#111" stroke-width="1.7" />
<path d="M584.69,410.3 L585.68,404.37 L586.68,398.61 L587.67,393.04 L588.66,387.64 L589.65,382.43 L590.64,377.39 L591.63,372.54 L592.62,367.86 L593.61,363.37 L594.61,359.05 L595.6,354.92 L596.59,350.96 L597.58,347.18 L598.57,343.59 L599.56,340.17 L600.55,336.93 L601.54,333.88 L602.54,331 L603.53,328.3 L604.52,325.79 L605.51,323.45 L606.5,321.29 L607.49,319.31 L608.48,317.51 L609.47,315.9 L610.47,314.46 L611.46,313.2 L612.45,312.12 L613.44,311.22 L614.43,310.5 L615.42,309.96 L616.41,309.6 L617.4,309.42 L618.4,309.42 L619.39,309.6 L620.38,309.96 L621.37,310.5 L622.36,311.22 L623.35,312.12 L624.34,313.2 L625.33,314.46 L626.33,315.9 L627.32,317.51 L628.31,319.31 L629.3,321.29 L630.29,323.45 L631.28,325.79 L632.27,328.3 L633.26,331 L634.26,333.88 L635.25,336.93 L636.24,340.17 L637.23,343.59 L638.22,347.18 L639.21,350.96 L640.2,354.92 L641.19,359.05 L642.19,363.37 L643.18,367.86 L644.17,372.54 L645.16,377.39 L646.15,382.43 L647.14,387.64 L648.13,393.04 L649.12,398.61 L650.12,404.37 L651.11,410.3" fill="none" stroke="#d01515" stroke-width="2.9" stroke-dasharray="6.5,4.6"/>
<path d="M691.6,304.8 L544.7,304.8 L544.7,410.3 L691.6,410.3" fill="none" stroke="#111" stroke-width="1.5"/>
<line x1="568.9" y1="410.3" x2="568.9" y2="405.3" stroke="#111" stroke-width="1.2" />
<line x1="593.35" y1="410.3" x2="593.35" y2="405.3" stroke="#111" stroke-width="1.2" />
<line x1="617.8" y1="410.3" x2="617.8" y2="405.3" stroke="#111" stroke-width="1.2" />
<line x1="642.25" y1="410.3" x2="642.25" y2="405.3" stroke="#111" stroke-width="1.2" />
<line x1="666.7" y1="410.3" x2="666.7" y2="405.3" stroke="#111" stroke-width="1.2" />
<line x1="544.7" y1="347.15" x2="550.2" y2="347.15" stroke="#111" stroke-width="1.2" />
<line x1="544.7" y1="389.7" x2="550.2" y2="389.7" stroke="#111" stroke-width="1.2" />
<line x1="687.6" y1="304.8" x2="691.6" y2="304.8" stroke="#cc1010" stroke-width="1.5" />
<line x1="691.6" y1="304.05" x2="691.6" y2="411.05" stroke="#cc1010" stroke-width="2.0" />
<line x1="688.6" y1="408.12" x2="691.6" y2="408.12" stroke="#cc1010" stroke-width="1.0" />
<line x1="688.6" y1="405.98" x2="691.6" y2="405.98" stroke="#cc1010" stroke-width="1.0" />
<line x1="688.6" y1="404.12" x2="691.6" y2="404.12" stroke="#cc1010" stroke-width="1.0" />
<line x1="688.6" y1="402.48" x2="691.6" y2="402.48" stroke="#cc1010" stroke-width="1.0" />
<line x1="686.1" y1="401.01" x2="691.6" y2="401.01" stroke="#cc1010" stroke-width="1.0" />
<line x1="688.6" y1="391.36" x2="691.6" y2="391.36" stroke="#cc1010" stroke-width="1.0" />
<line x1="688.6" y1="385.71" x2="691.6" y2="385.71" stroke="#cc1010" stroke-width="1.0" />
<line x1="688.6" y1="381.7" x2="691.6" y2="381.7" stroke="#cc1010" stroke-width="1.0" />
<line x1="688.6" y1="378.59" x2="691.6" y2="378.59" stroke="#cc1010" stroke-width="1.0" />
<line x1="688.6" y1="376.05" x2="691.6" y2="376.05" stroke="#cc1010" stroke-width="1.0" />
<line x1="688.6" y1="373.91" x2="691.6" y2="373.91" stroke="#cc1010" stroke-width="1.0" />
<line x1="688.6" y1="372.05" x2="691.6" y2="372.05" stroke="#cc1010" stroke-width="1.0" />
<line x1="688.6" y1="370.41" x2="691.6" y2="370.41" stroke="#cc1010" stroke-width="1.0" />
<line x1="686.1" y1="368.94" x2="691.6" y2="368.94" stroke="#cc1010" stroke-width="1.0" />
<line x1="688.6" y1="359.29" x2="691.6" y2="359.29" stroke="#cc1010" stroke-width="1.0" />
<line x1="688.6" y1="353.64" x2="691.6" y2="353.64" stroke="#cc1010" stroke-width="1.0" />
<line x1="688.6" y1="349.63" x2="691.6" y2="349.63" stroke="#cc1010" stroke-width="1.0" />
<line x1="688.6" y1="346.52" x2="691.6" y2="346.52" stroke="#cc1010" stroke-width="1.0" />
<line x1="688.6" y1="343.98" x2="691.6" y2="343.98" stroke="#cc1010" stroke-width="1.0" />
<line x1="688.6" y1="341.84" x2="691.6" y2="341.84" stroke="#cc1010" stroke-width="1.0" />
<line x1="688.6" y1="339.98" x2="691.6" y2="339.98" stroke="#cc1010" stroke-width="1.0" />
<line x1="688.6" y1="338.34" x2="691.6" y2="338.34" stroke="#cc1010" stroke-width="1.0" />
<line x1="686.1" y1="336.87" x2="691.6" y2="336.87" stroke="#cc1010" stroke-width="1.0" />
<line x1="688.6" y1="327.22" x2="691.6" y2="327.22" stroke="#cc1010" stroke-width="1.0" />
<line x1="688.6" y1="321.57" x2="691.6" y2="321.57" stroke="#cc1010" stroke-width="1.0" />
<line x1="688.6" y1="317.56" x2="691.6" y2="317.56" stroke="#cc1010" stroke-width="1.0" />
<line x1="688.6" y1="314.45" x2="691.6" y2="314.45" stroke="#cc1010" stroke-width="1.0" />
<line x1="688.6" y1="311.91" x2="691.6" y2="311.91" stroke="#cc1010" stroke-width="1.0" />
<line x1="688.6" y1="309.77" x2="691.6" y2="309.77" stroke="#cc1010" stroke-width="1.0" />
<line x1="688.6" y1="307.91" x2="691.6" y2="307.91" stroke="#cc1010" stroke-width="1.0" />
<line x1="688.6" y1="306.27" x2="691.6" y2="306.27" stroke="#cc1010" stroke-width="1.0" />
<line x1="686.1" y1="304.8" x2="691.6" y2="304.8" stroke="#cc1010" stroke-width="1.0" />
<text x="533.6" y="310" font-size="11" text-anchor="end" fill="#000"  stroke="#000" stroke-width="0.25">1</text>
<text x="543.4" y="351.6" font-size="12" text-anchor="end" fill="#000"  stroke="#000" stroke-width="0.25">0.9</text>
<text x="543.4" y="394.4" font-size="12" text-anchor="end" fill="#000"  stroke="#000" stroke-width="0.25">0.8</text>
<text x="541.3" y="425.6" font-size="12" text-anchor="middle" fill="#000"  stroke="#000" stroke-width="0.25">−3</text>
<text x="618.6" y="425.6" font-size="12" text-anchor="middle" fill="#000"  stroke="#000" stroke-width="0.25">0</text>
<text x="692" y="425.6" font-size="12" text-anchor="middle" fill="#000"  stroke="#000" stroke-width="0.25">3</text>
<text x="650.8" y="323.6" font-size="11.5" text-anchor="start" fill="#000"  stroke="#000" stroke-width="0.25">Front</text>
<text x="650.8" y="338.3" font-size="11.5" text-anchor="start" fill="#2a2ae0"  stroke="#2a2ae0" stroke-width="0.25">Back</text>
<text x="650.8" y="352.3" font-size="11.8" text-anchor="start" fill="#000"  stroke="#000" stroke-width="0.25">(N=9)</text>
<text x="697.8" y="309.6" font-size="12" text-anchor="start" fill="#cc1a1a"  stroke="#cc1a1a" stroke-width="0.25">1000</text>
<text x="697" y="341.8" font-size="12" text-anchor="start" fill="#cc1a1a"  stroke="#cc1a1a" stroke-width="0.25">100</text>
<text x="696.4" y="373.8" font-size="12" text-anchor="start" fill="#cc1a1a"  stroke="#cc1a1a" stroke-width="0.25">10</text>
<text x="696" y="405.3" font-size="12" text-anchor="start" fill="#cc1a1a"  stroke="#cc1a1a" stroke-width="0.25">1</text>
<text x="0" y="0" class="r" font-size="12" text-anchor="middle" fill="#cc1a1a" transform="translate(747.4,362.4) rotate(-90)">cAMP (nM)</text>
<text x="0" y="0" class="k" font-size="11.7" text-anchor="middle" transform="translate(503.4,361.7) rotate(-90)">RBD-GFP Int</text>
<path d="M545.5,533 L547.8,531.8 L550.1,529.34 L552.4,526.94 L554.7,525.8 L557,525.8 L559.3,527 L561.6,531.85 L563.9,531.37 L566.2,527 L568.5,514.2 L570.8,505.28 L573.1,497.35 L575.4,489.3 L577.7,481.31 L580,473.3 L582.3,465.27 L584.6,462.2 L586.9,458.75 L589.2,456.92 L591.5,456.34 L593.8,456.52 L596.1,456.8 L598.4,457.18 L600.7,457.1 L603,457.56 L605.3,459.01 L607.6,461.14 L609.9,464.61 L612.2,466.75 L614.5,471.97 L616.8,477.33 L619.1,478.82 L621.4,481.95 L623.7,483.68 L626,484.81 L628.3,485.57 L630.6,485.74 L632.9,485.92 L635.2,486.09 L637.5,486.68 L639.8,487.3 L642.1,487.91 L644.4,488.37 L646.7,492.69 L649,493.01 L651.3,493.82 L653.6,495.41 L655.9,500.5 L658.2,502.33 L660.5,504.16 L662.8,506.14 L665.1,508.19 L667.4,510.32 L669.7,513.42 L672,520.2 L674.3,521.21 L676.6,512.9 L678.9,509.95 L681.2,513.75 L683.5,516.98 L685.8,514.3 L688.1,513.7 L690.4,515.01 L690.4,533.01 L688.1,531.7 L685.8,532.3 L683.5,534.98 L681.2,537.75 L678.9,533.95 L676.6,536.9 L674.3,535.21 L672,534.2 L669.7,527.42 L667.4,525.32 L665.1,523.19 L662.8,521.14 L660.5,519.16 L658.2,517.33 L655.9,515.5 L653.6,517.41 L651.3,515.82 L649,515.01 L646.7,514.69 L644.4,518.37 L642.1,517.91 L639.8,517.3 L637.5,516.68 L635.2,516.09 L632.9,515.92 L630.6,515.74 L628.3,515.57 L626,514.81 L623.7,513.68 L621.4,511.95 L619.1,508.82 L616.8,501.33 L614.5,495.97 L612.2,490.75 L609.9,482.61 L607.6,479.14 L605.3,477.01 L603,475.56 L600.7,475.1 L598.4,474.18 L596.1,473.8 L593.8,473.52 L591.5,473.34 L589.2,473.92 L586.9,475.75 L584.6,479.2 L582.3,491.27 L580,499.3 L577.7,507.31 L575.4,515.3 L573.1,523.35 L570.8,531.28 L568.5,540.2 L566.2,539 L563.9,543.37 L561.6,539.45 L559.3,534.6 L557,533.4 L554.7,533.4 L552.4,534.54 L550.1,536.94 L547.8,539.4 L545.5,540.6 Z" fill="#d2d2d2" stroke="none"/>
<path d="M545.5,533 V540.6 M544.1,533 H546.9 M544.1,540.6 H546.9 M547.8,531.8 V539.4 M546.4,531.8 H549.2 M546.4,539.4 H549.2 M550.1,529.34 V536.94 M548.7,529.34 H551.5 M548.7,536.94 H551.5 M552.4,526.94 V534.54 M551,526.94 H553.8 M551,534.54 H553.8 M554.7,525.8 V533.4 M553.3,525.8 H556.1 M553.3,533.4 H556.1 M557,525.8 V533.4 M555.6,525.8 H558.4 M555.6,533.4 H558.4 M559.3,527 V534.6 M557.9,527 H560.7 M557.9,534.6 H560.7 M561.6,531.85 V539.45 M560.2,531.85 H563 M560.2,539.45 H563 M563.9,531.37 V543.37 M562.5,531.37 H565.3 M562.5,543.37 H565.3 M566.2,527 V539 M564.8,527 H567.6 M564.8,539 H567.6 M568.5,514.2 V540.2 M567.1,514.2 H569.9 M567.1,540.2 H569.9 M570.8,505.28 V531.28 M569.4,505.28 H572.2 M569.4,531.28 H572.2 M573.1,497.35 V523.35 M571.7,497.35 H574.5 M571.7,523.35 H574.5 M575.4,489.3 V515.3 M574,489.3 H576.8 M574,515.3 H576.8 M577.7,481.31 V507.31 M576.3,481.31 H579.1 M576.3,507.31 H579.1 M580,473.3 V499.3 M578.6,473.3 H581.4 M578.6,499.3 H581.4 M582.3,465.27 V491.27 M580.9,465.27 H583.7 M580.9,491.27 H583.7 M584.6,462.2 V479.2 M583.2,462.2 H586 M583.2,479.2 H586 M586.9,458.75 V475.75 M585.5,458.75 H588.3 M585.5,475.75 H588.3 M589.2,456.92 V473.92 M587.8,456.92 H590.6 M587.8,473.92 H590.6 M591.5,456.34 V473.34 M590.1,456.34 H592.9 M590.1,473.34 H592.9 M593.8,456.52 V473.52 M592.4,456.52 H595.2 M592.4,473.52 H595.2 M596.1,456.8 V473.8 M594.7,456.8 H597.5 M594.7,473.8 H597.5 M598.4,457.18 V474.18 M597,457.18 H599.8 M597,474.18 H599.8 M600.7,457.1 V475.1 M599.3,457.1 H602.1 M599.3,475.1 H602.1 M603,457.56 V475.56 M601.6,457.56 H604.4 M601.6,475.56 H604.4 M605.3,459.01 V477.01 M603.9,459.01 H606.7 M603.9,477.01 H606.7 M607.6,461.14 V479.14 M606.2,461.14 H609 M606.2,479.14 H609 M609.9,464.61 V482.61 M608.5,464.61 H611.3 M608.5,482.61 H611.3 M612.2,466.75 V490.75 M610.8,466.75 H613.6 M610.8,490.75 H613.6 M614.5,471.97 V495.97 M613.1,471.97 H615.9 M613.1,495.97 H615.9 M616.8,477.33 V501.33 M615.4,477.33 H618.2 M615.4,501.33 H618.2 M619.1,478.82 V508.82 M617.7,478.82 H620.5 M617.7,508.82 H620.5 M621.4,481.95 V511.95 M620,481.95 H622.8 M620,511.95 H622.8 M623.7,483.68 V513.68 M622.3,483.68 H625.1 M622.3,513.68 H625.1 M626,484.81 V514.81 M624.6,484.81 H627.4 M624.6,514.81 H627.4 M628.3,485.57 V515.57 M626.9,485.57 H629.7 M626.9,515.57 H629.7 M630.6,485.74 V515.74 M629.2,485.74 H632 M629.2,515.74 H632 M632.9,485.92 V515.92 M631.5,485.92 H634.3 M631.5,515.92 H634.3 M635.2,486.09 V516.09 M633.8,486.09 H636.6 M633.8,516.09 H636.6 M637.5,486.68 V516.68 M636.1,486.68 H638.9 M636.1,516.68 H638.9 M639.8,487.3 V517.3 M638.4,487.3 H641.2 M638.4,517.3 H641.2 M642.1,487.91 V517.91 M640.7,487.91 H643.5 M640.7,517.91 H643.5 M644.4,488.37 V518.37 M643,488.37 H645.8 M643,518.37 H645.8 M646.7,492.69 V514.69 M645.3,492.69 H648.1 M645.3,514.69 H648.1 M649,493.01 V515.01 M647.6,493.01 H650.4 M647.6,515.01 H650.4 M651.3,493.82 V515.82 M649.9,493.82 H652.7 M649.9,515.82 H652.7 M653.6,495.41 V517.41 M652.2,495.41 H655 M652.2,517.41 H655 M655.9,500.5 V515.5 M654.5,500.5 H657.3 M654.5,515.5 H657.3 M658.2,502.33 V517.33 M656.8,502.33 H659.6 M656.8,517.33 H659.6 M660.5,504.16 V519.16 M659.1,504.16 H661.9 M659.1,519.16 H661.9 M662.8,506.14 V521.14 M661.4,506.14 H664.2 M661.4,521.14 H664.2 M665.1,508.19 V523.19 M663.7,508.19 H666.5 M663.7,523.19 H666.5 M667.4,510.32 V525.32 M666,510.32 H668.8 M666,525.32 H668.8 M669.7,513.42 V527.42 M668.3,513.42 H671.1 M668.3,527.42 H671.1 M672,520.2 V534.2 M670.6,520.2 H673.4 M670.6,534.2 H673.4 M674.3,521.21 V535.21 M672.9,521.21 H675.7 M672.9,535.21 H675.7 M676.6,512.9 V536.9 M675.2,512.9 H678 M675.2,536.9 H678 M678.9,509.95 V533.95 M677.5,509.95 H680.3 M677.5,533.95 H680.3 M681.2,513.75 V537.75 M679.8,513.75 H682.6 M679.8,537.75 H682.6 M683.5,516.98 V534.98 M682.1,516.98 H684.9 M682.1,534.98 H684.9 M685.8,514.3 V532.3 M684.4,514.3 H687.2 M684.4,532.3 H687.2 M688.1,513.7 V531.7 M686.7,513.7 H689.5 M686.7,531.7 H689.5 M690.4,515.01 V533.01 M689,515.01 H691.8 M689,533.01 H691.8 " fill="none" stroke="#8a8a8a" stroke-width="0.7"/>
<path d="M545.5,536.8 C546.4,536.33 547.21,536.14 548,535.5 C549.01,534.68 549.51,533.75 550.4,532.8 C551.49,531.63 552.04,530.26 553.5,529.6 C554.81,529.01 556.1,529.25 557.5,529.6 C558.51,529.85 559.32,530.34 559.9,531.2 C560.77,532.49 560.77,534.02 561.5,535.5 C562.04,536.59 562.23,538.62 563.4,538.3 C564.94,537.88 564.77,535.82 565.5,534.4 C566.39,532.68 567.29,531.43 567.9,529.6 C568.82,526.85 569.38,523.44 570.3,520 C571.07,517.14 571.78,514.95 572.6,512.1 C573.76,508.07 574.64,504.93 575.8,500.9 C576.95,496.9 577.85,493.8 579,489.8 C580.16,485.77 581.02,482.62 582.2,478.6 C583.04,475.75 583.4,473.42 584.6,470.7 C585.44,468.8 586.46,467.14 587.8,465.9 C588.7,465.07 589.79,464.94 591,464.8 C592.4,464.64 593.5,464.92 594.9,465.1 C596.64,465.32 597.98,465.59 599.7,465.9 C601.14,466.16 602.36,466.09 603.7,466.7 C604.89,467.24 605.54,468.11 606.5,469 C607.45,469.88 608.37,470.46 609,471.6 C609.94,473.31 612.04,478.31 613.7,482.1 C615.35,485.87 616.53,489.46 618.2,492.6 C619.31,494.69 620.3,496.36 622.1,497.9 C623.71,499.28 625.33,500 627.4,500.5 C630.17,501.17 632.49,500.62 635.3,501.1 C638.2,501.6 640.32,502.61 643.2,503.2 C645.76,503.73 647.95,503.27 650.4,504.2 C652.65,505.05 653.97,506.56 655.9,508 C657.89,509.48 659.4,510.7 661.3,512.3 C663.33,514.01 665.38,515.87 666.8,517.2 C667.75,518.09 668.48,518.81 669.3,519.8 C669.85,520.46 670.31,520.99 670.6,521.8 C671.03,523.01 671.11,524.65 671.5,526 C671.76,526.9 671.99,527.82 672.5,528.4 C672.84,528.79 673.44,528.93 673.9,528.7 C674.59,528.35 674.84,527.65 675.3,527 C675.81,526.28 676.11,525.64 676.6,524.9 C677.19,524.02 677.69,523.23 678.3,522.5 C678.71,522.01 679.07,520.95 679.6,521.3 C680.4,521.82 680.25,523.02 680.6,524 C681.08,525.36 681.26,527.14 681.9,527.8 C682.32,528.24 682.72,527.08 683.1,526.6 C683.55,526.03 683.73,525.46 684.2,524.9 C684.91,524.07 685.4,523.2 686.4,522.7 C687.11,522.35 687.86,522.43 688.6,522.7 C689.52,523.03 690.01,523.72 690.8,524.3" fill="none" stroke="#111" stroke-width="1.7" />
<path d="M584.71,552.3 L585.7,546.37 L586.69,540.62 L587.68,535.05 L588.67,529.67 L589.66,524.46 L590.65,519.43 L591.64,514.58 L592.64,509.91 L593.63,505.41 L594.62,501.1 L595.61,496.97 L596.6,493.02 L597.59,489.25 L598.58,485.65 L599.57,482.24 L600.56,479.01 L601.55,475.95 L602.54,473.08 L603.53,470.38 L604.52,467.87 L605.52,465.53 L606.51,463.38 L607.5,461.4 L608.49,459.61 L609.48,457.99 L610.47,456.55 L611.46,455.29 L612.45,454.22 L613.44,453.32 L614.43,452.6 L615.42,452.06 L616.41,451.7 L617.4,451.52 L618.4,451.52 L619.39,451.7 L620.38,452.06 L621.37,452.6 L622.36,453.32 L623.35,454.22 L624.34,455.29 L625.33,456.55 L626.32,457.99 L627.31,459.61 L628.3,461.4 L629.29,463.38 L630.28,465.53 L631.28,467.87 L632.27,470.38 L633.26,473.08 L634.25,475.95 L635.24,479.01 L636.23,482.24 L637.22,485.65 L638.21,489.25 L639.2,493.02 L640.19,496.97 L641.18,501.1 L642.17,505.41 L643.16,509.91 L644.16,514.58 L645.15,519.43 L646.14,524.46 L647.13,529.67 L648.12,535.05 L649.11,540.62 L650.1,546.37 L651.09,552.3" fill="none" stroke="#d01515" stroke-width="2.9" stroke-dasharray="6.5,4.6"/>
<path d="M691.6,447.2 L544.7,447.2 L544.7,552.3 L691.6,552.3" fill="none" stroke="#111" stroke-width="1.5"/>
<line x1="568.9" y1="552.3" x2="568.9" y2="547.3" stroke="#111" stroke-width="1.2" />
<line x1="593.35" y1="552.3" x2="593.35" y2="547.3" stroke="#111" stroke-width="1.2" />
<line x1="617.8" y1="552.3" x2="617.8" y2="547.3" stroke="#111" stroke-width="1.2" />
<line x1="642.25" y1="552.3" x2="642.25" y2="547.3" stroke="#111" stroke-width="1.2" />
<line x1="666.7" y1="552.3" x2="666.7" y2="547.3" stroke="#111" stroke-width="1.2" />
<line x1="544.7" y1="465" x2="550.2" y2="465" stroke="#111" stroke-width="1.2" />
<line x1="544.7" y1="499.7" x2="550.2" y2="499.7" stroke="#111" stroke-width="1.2" />
<line x1="544.7" y1="534.4" x2="550.2" y2="534.4" stroke="#111" stroke-width="1.2" />
<line x1="687.6" y1="447.2" x2="691.6" y2="447.2" stroke="#cc1010" stroke-width="1.5" />
<line x1="691.6" y1="446.45" x2="691.6" y2="553.05" stroke="#cc1010" stroke-width="2.0" />
<line x1="688.6" y1="550.32" x2="691.6" y2="550.32" stroke="#cc1010" stroke-width="1.0" />
<line x1="688.6" y1="548.17" x2="691.6" y2="548.17" stroke="#cc1010" stroke-width="1.0" />
<line x1="688.6" y1="546.31" x2="691.6" y2="546.31" stroke="#cc1010" stroke-width="1.0" />
<line x1="688.6" y1="544.67" x2="691.6" y2="544.67" stroke="#cc1010" stroke-width="1.0" />
<line x1="686.1" y1="543.2" x2="691.6" y2="543.2" stroke="#cc1010" stroke-width="1.0" />
<line x1="688.6" y1="533.54" x2="691.6" y2="533.54" stroke="#cc1010" stroke-width="1.0" />
<line x1="688.6" y1="527.88" x2="691.6" y2="527.88" stroke="#cc1010" stroke-width="1.0" />
<line x1="688.6" y1="523.87" x2="691.6" y2="523.87" stroke="#cc1010" stroke-width="1.0" />
<line x1="688.6" y1="520.76" x2="691.6" y2="520.76" stroke="#cc1010" stroke-width="1.0" />
<line x1="688.6" y1="518.22" x2="691.6" y2="518.22" stroke="#cc1010" stroke-width="1.0" />
<line x1="688.6" y1="516.07" x2="691.6" y2="516.07" stroke="#cc1010" stroke-width="1.0" />
<line x1="688.6" y1="514.21" x2="691.6" y2="514.21" stroke="#cc1010" stroke-width="1.0" />
<line x1="688.6" y1="512.57" x2="691.6" y2="512.57" stroke="#cc1010" stroke-width="1.0" />
<line x1="686.1" y1="511.1" x2="691.6" y2="511.1" stroke="#cc1010" stroke-width="1.0" />
<line x1="688.6" y1="501.44" x2="691.6" y2="501.44" stroke="#cc1010" stroke-width="1.0" />
<line x1="688.6" y1="495.78" x2="691.6" y2="495.78" stroke="#cc1010" stroke-width="1.0" />
<line x1="688.6" y1="491.77" x2="691.6" y2="491.77" stroke="#cc1010" stroke-width="1.0" />
<line x1="688.6" y1="488.66" x2="691.6" y2="488.66" stroke="#cc1010" stroke-width="1.0" />
<line x1="688.6" y1="486.12" x2="691.6" y2="486.12" stroke="#cc1010" stroke-width="1.0" />
<line x1="688.6" y1="483.97" x2="691.6" y2="483.97" stroke="#cc1010" stroke-width="1.0" />
<line x1="688.6" y1="482.11" x2="691.6" y2="482.11" stroke="#cc1010" stroke-width="1.0" />
<line x1="688.6" y1="480.47" x2="691.6" y2="480.47" stroke="#cc1010" stroke-width="1.0" />
<line x1="686.1" y1="479" x2="691.6" y2="479" stroke="#cc1010" stroke-width="1.0" />
<line x1="688.6" y1="469.34" x2="691.6" y2="469.34" stroke="#cc1010" stroke-width="1.0" />
<line x1="688.6" y1="463.68" x2="691.6" y2="463.68" stroke="#cc1010" stroke-width="1.0" />
<line x1="688.6" y1="459.67" x2="691.6" y2="459.67" stroke="#cc1010" stroke-width="1.0" />
<line x1="688.6" y1="456.56" x2="691.6" y2="456.56" stroke="#cc1010" stroke-width="1.0" />
<line x1="688.6" y1="454.02" x2="691.6" y2="454.02" stroke="#cc1010" stroke-width="1.0" />
<line x1="688.6" y1="451.87" x2="691.6" y2="451.87" stroke="#cc1010" stroke-width="1.0" />
<line x1="688.6" y1="450.01" x2="691.6" y2="450.01" stroke="#cc1010" stroke-width="1.0" />
<line x1="688.6" y1="448.37" x2="691.6" y2="448.37" stroke="#cc1010" stroke-width="1.0" />
<text x="540.3" y="469.3" font-size="11" text-anchor="end" fill="#000"  stroke="#000" stroke-width="0.25">4</text>
<text x="540.3" y="504.1" font-size="11" text-anchor="end" fill="#000"  stroke="#000" stroke-width="0.25">2</text>
<text x="542.6" y="540.2" font-size="14" text-anchor="end" fill="#000"  stroke="#000" stroke-width="0.25">0</text>
<text x="541.3" y="567.6" font-size="12" text-anchor="middle" fill="#000"  stroke="#000" stroke-width="0.25">−3</text>
<text x="618.6" y="567.6" font-size="12" text-anchor="middle" fill="#000"  stroke="#000" stroke-width="0.25">0</text>
<text x="691" y="567.6" font-size="12" text-anchor="middle" fill="#000"  stroke="#000" stroke-width="0.25">3</text>
<text x="698.6" y="451.6" font-size="12" text-anchor="start" fill="#cc1a1a"  stroke="#cc1a1a" stroke-width="0.25">1000</text>
<text x="698" y="483.4" font-size="12" text-anchor="start" fill="#cc1a1a"  stroke="#cc1a1a" stroke-width="0.25">100</text>
<text x="697" y="515.5" font-size="12" text-anchor="start" fill="#cc1a1a"  stroke="#cc1a1a" stroke-width="0.25">10</text>
<text x="696.2" y="547.2" font-size="12" text-anchor="start" fill="#cc1a1a"  stroke="#cc1a1a" stroke-width="0.25">1</text>
<text x="0" y="0" class="r" font-size="12" text-anchor="middle" fill="#cc1a1a" transform="translate(745.8,500.9) rotate(-90)">cAMP (nM)</text>
<text x="0" y="0" class="k" font-size="12.8" text-anchor="middle" transform="translate(504.4,495.1) rotate(-90)">Vx (μm/min)</text>
<text x="622.4" y="589.2" font-size="12.6" text-anchor="middle" fill="#000"  stroke="#000" stroke-width="0.25">Time (min)</text>
</svg>
</body></html>
